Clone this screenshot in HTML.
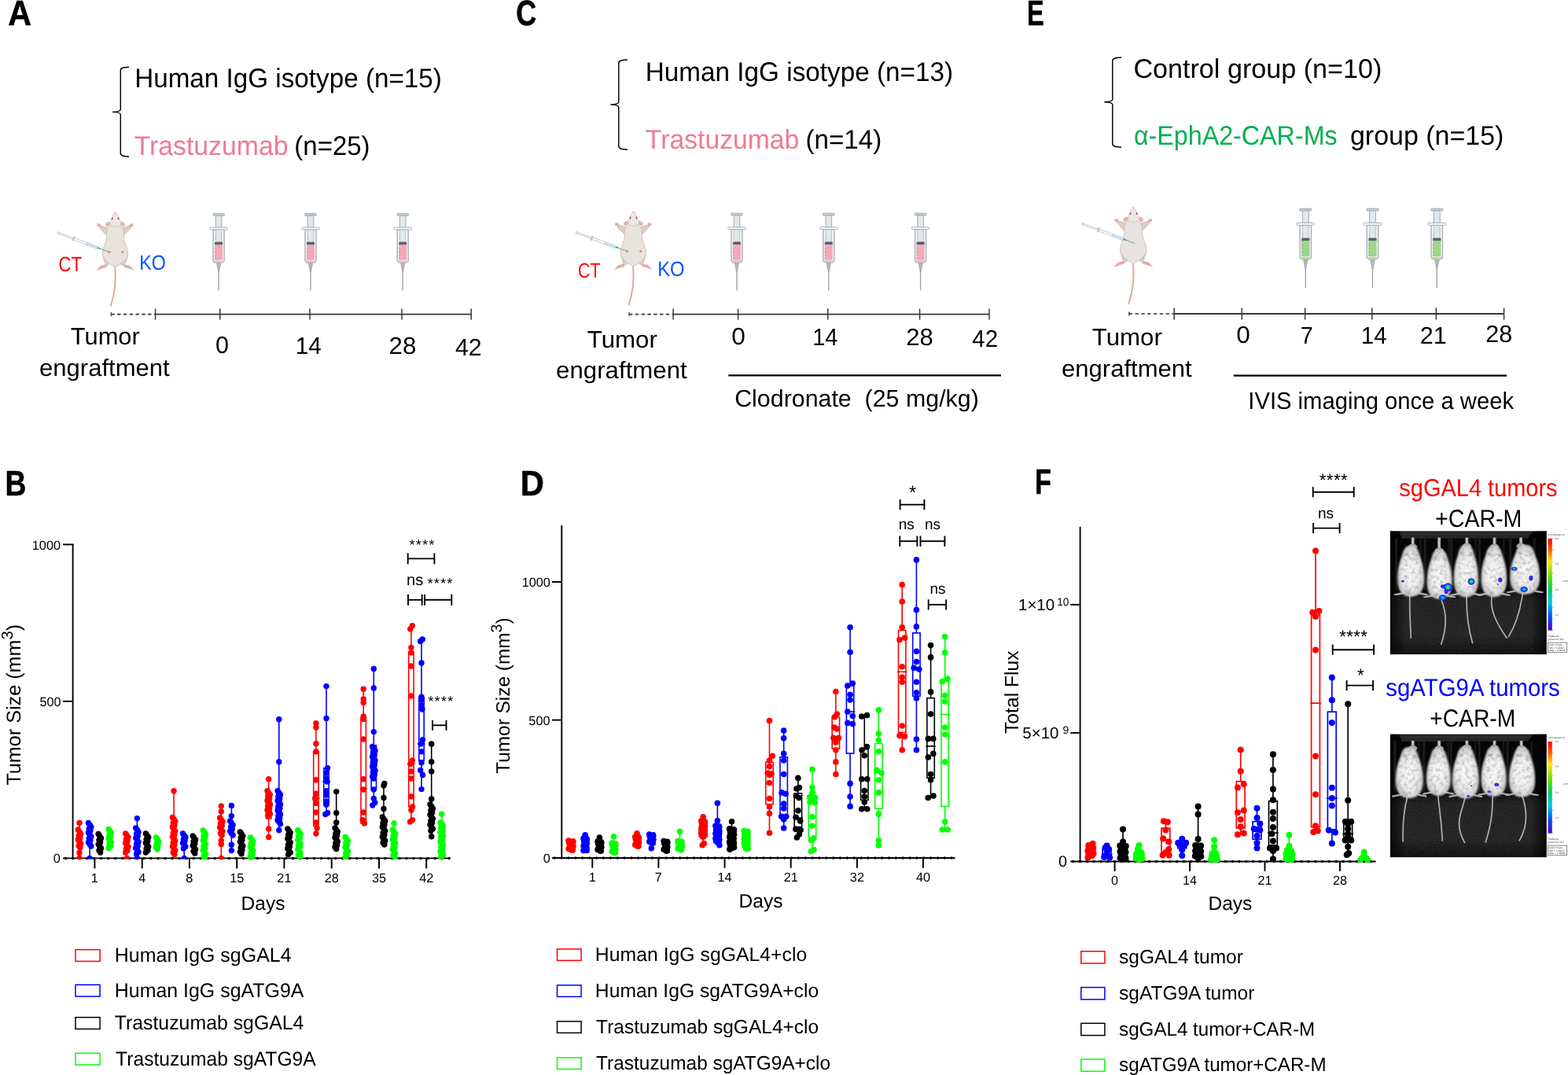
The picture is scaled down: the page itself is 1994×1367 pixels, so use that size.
<!DOCTYPE html>
<html lang="en"><head><meta charset="utf-8"><title>Figure</title>
<style>
html,body{margin:0;padding:0;background:#fff;}
body{width:1994px;height:1367px;overflow:hidden;font-family:'Liberation Sans', Arial, Helvetica, sans-serif;}
svg{display:block;}
svg text{font-family:'Liberation Sans', Arial, Helvetica, sans-serif;text-rendering:geometricPrecision;}
</style></head><body>
<svg width="1994" height="1367" viewBox="0 0 1994 1367">
<rect width="1994" height="1367" fill="#fff"/>
<text x="10.16" y="31.9" font-size="45" fill="#000" font-weight="bold" textLength="29.73" lengthAdjust="spacingAndGlyphs" stroke="#000" stroke-width="0.6" stroke-linejoin="round">A</text>
<text x="656.37" y="32.0" font-size="45" fill="#000" font-weight="bold" textLength="26.01" lengthAdjust="spacingAndGlyphs" stroke="#000" stroke-width="0.6" stroke-linejoin="round">C</text>
<text x="1305.97" y="32.0" font-size="45" fill="#000" font-weight="bold" textLength="21.69" lengthAdjust="spacingAndGlyphs" stroke="#000" stroke-width="0.6" stroke-linejoin="round">E</text>
<text x="6.58" y="630.0" font-size="45" fill="#000" font-weight="bold" textLength="26.81" lengthAdjust="spacingAndGlyphs" stroke="#000" stroke-width="0.6" stroke-linejoin="round">B</text>
<text x="661.69" y="630.2" font-size="45" fill="#000" font-weight="bold" textLength="30.16" lengthAdjust="spacingAndGlyphs" stroke="#000" stroke-width="0.6" stroke-linejoin="round">D</text>
<text x="1315.97" y="628.0" font-size="45" fill="#000" font-weight="bold" textLength="20.85" lengthAdjust="spacingAndGlyphs" stroke="#000" stroke-width="0.6" stroke-linejoin="round">F</text>
<path d="M164.0,85.2 C158.3,85.6 153.3,85.8 153.3,89.7 L153.3,139.2 C153.3,141.4 150.3,142.1 143.0,142.4 C150.3,142.7 153.3,143.4 153.3,145.6 L153.3,194.7 C153.3,198.6 158.3,198.8 164.0,199.2" fill="none" stroke="#000" stroke-width="1.45"/>
<path d="M798.0,76.0 C791.8,76.4 786.8,76.6 786.8,80.5 L786.8,129.8 C786.8,132.0 783.8,132.7 776.5,133.0 C783.8,133.3 786.8,134.0 786.8,136.2 L786.8,185.8 C786.8,189.7 791.8,189.9 798.0,190.3" fill="none" stroke="#000" stroke-width="1.45"/>
<path d="M1426.0,73.0 C1419.8,73.4 1414.8,73.6 1414.8,77.5 L1414.8,126.6 C1414.8,128.8 1411.8,129.5 1404.5,129.8 C1411.8,130.1 1414.8,130.8 1414.8,133.0 L1414.8,182.8 C1414.8,186.7 1419.8,186.9 1426.0,187.3" fill="none" stroke="#000" stroke-width="1.45"/>
<text x="171.20" y="110.9" font-size="34.3" fill="#000" font-weight="normal" textLength="390.72" lengthAdjust="spacingAndGlyphs" >Human IgG isotype (n=15)</text>
<text x="170.67" y="196.7" font-size="34.3" fill="#F07A90" font-weight="normal" textLength="195.80" lengthAdjust="spacingAndGlyphs" >Trastuzumab</text>
<text x="374.35" y="196.7" font-size="34.3" fill="#000" font-weight="normal" textLength="96.25" lengthAdjust="spacingAndGlyphs" >(n=25)</text>
<text x="820.80" y="103.2" font-size="34.3" fill="#000" font-weight="normal" textLength="391.32" lengthAdjust="spacingAndGlyphs" >Human IgG isotype (n=13)</text>
<text x="820.87" y="188.6" font-size="34.3" fill="#F07A90" font-weight="normal" textLength="195.49" lengthAdjust="spacingAndGlyphs" >Trastuzumab</text>
<text x="1024.44" y="188.6" font-size="34.3" fill="#000" font-weight="normal" textLength="96.87" lengthAdjust="spacingAndGlyphs" >(n=14)</text>
<text x="1441.40" y="98.5" font-size="34.3" fill="#000" font-weight="normal" textLength="315.97" lengthAdjust="spacingAndGlyphs" >Control group (n=10)</text>
<text x="1441.99" y="183.8" font-size="34.3" fill="#00B050" font-weight="normal" textLength="258.61" lengthAdjust="spacingAndGlyphs" >α-EphA2-CAR-Ms</text>
<text x="1716.94" y="183.8" font-size="34.3" fill="#000" font-weight="normal" textLength="195.42" lengthAdjust="spacingAndGlyphs" >group (n=15)</text>
<g><rect x="270.80" y="271.40" width="14.60" height="2.80" rx="0.8" fill="#C9D0D4" stroke="#9AA4AA" stroke-width="0.9"/><rect x="274.30" y="274.20" width="7.60" height="34.00" rx="0.8" fill="#E3E8EB" stroke="#9AA4AA" stroke-width="0.9"/><rect x="271.10" y="291.80" width="14.00" height="41.00" rx="1.5" fill="#F2F4F5" stroke="#AEB6BB" stroke-width="1.5"/><rect x="274.50" y="291.80" width="7.20" height="16.00" rx="0" fill="#E3E8EB" stroke="#A9B2B7" stroke-width="0.7"/><rect x="266.80" y="289.10" width="22.60" height="2.80" rx="1.4" fill="#FFFFFF" stroke="#9AA4AA" stroke-width="0.9"/><rect x="273.10" y="307.80" width="10.00" height="3.70" rx="0.3" fill="#5F6468" stroke="none" stroke-width="0"/><rect x="273.10" y="311.50" width="10.00" height="19.20" rx="0.3" fill="#F4A8B8" stroke="none" stroke-width="0"/><rect x="272.10" y="332.00" width="12.00" height="2.60" rx="1.0" fill="#F0B9C4" stroke="#B9C1C6" stroke-width="0.5"/><path d="M275.40,334.60 L280.80,334.60 L278.70,345.40 L277.50,345.40 Z" fill="#B5B5B5" stroke="#8E8E8E" stroke-width="0.5"/><line x1="278.10" y1="344.40" x2="278.10" y2="369.40" stroke="#9C9C9C" stroke-width="1.3"/><line x1="272.90" y1="302.90" x2="274.70" y2="302.90" stroke="#6b6b6b" stroke-width="0.5" opacity="0.7"/><line x1="272.90" y1="316.40" x2="274.70" y2="316.40" stroke="#6b6b6b" stroke-width="0.5" opacity="0.7"/><line x1="272.90" y1="320.40" x2="274.70" y2="320.40" stroke="#6b6b6b" stroke-width="0.5" opacity="0.7"/><line x1="272.90" y1="324.90" x2="274.70" y2="324.90" stroke="#6b6b6b" stroke-width="0.5" opacity="0.7"/><line x1="272.90" y1="328.90" x2="274.70" y2="328.90" stroke="#6b6b6b" stroke-width="0.5" opacity="0.7"/></g>
<g><rect x="387.70" y="271.40" width="14.60" height="2.80" rx="0.8" fill="#C9D0D4" stroke="#9AA4AA" stroke-width="0.9"/><rect x="391.20" y="274.20" width="7.60" height="34.00" rx="0.8" fill="#E3E8EB" stroke="#9AA4AA" stroke-width="0.9"/><rect x="388.00" y="291.80" width="14.00" height="41.00" rx="1.5" fill="#F2F4F5" stroke="#AEB6BB" stroke-width="1.5"/><rect x="391.40" y="291.80" width="7.20" height="16.00" rx="0" fill="#E3E8EB" stroke="#A9B2B7" stroke-width="0.7"/><rect x="383.70" y="289.10" width="22.60" height="2.80" rx="1.4" fill="#FFFFFF" stroke="#9AA4AA" stroke-width="0.9"/><rect x="390.00" y="307.80" width="10.00" height="3.70" rx="0.3" fill="#5F6468" stroke="none" stroke-width="0"/><rect x="390.00" y="311.50" width="10.00" height="19.20" rx="0.3" fill="#F4A8B8" stroke="none" stroke-width="0"/><rect x="389.00" y="332.00" width="12.00" height="2.60" rx="1.0" fill="#F0B9C4" stroke="#B9C1C6" stroke-width="0.5"/><path d="M392.30,334.60 L397.70,334.60 L395.60,345.40 L394.40,345.40 Z" fill="#B5B5B5" stroke="#8E8E8E" stroke-width="0.5"/><line x1="395.00" y1="344.40" x2="395.00" y2="369.40" stroke="#9C9C9C" stroke-width="1.3"/><line x1="389.80" y1="302.90" x2="391.60" y2="302.90" stroke="#6b6b6b" stroke-width="0.5" opacity="0.7"/><line x1="389.80" y1="316.40" x2="391.60" y2="316.40" stroke="#6b6b6b" stroke-width="0.5" opacity="0.7"/><line x1="389.80" y1="320.40" x2="391.60" y2="320.40" stroke="#6b6b6b" stroke-width="0.5" opacity="0.7"/><line x1="389.80" y1="324.90" x2="391.60" y2="324.90" stroke="#6b6b6b" stroke-width="0.5" opacity="0.7"/><line x1="389.80" y1="328.90" x2="391.60" y2="328.90" stroke="#6b6b6b" stroke-width="0.5" opacity="0.7"/></g>
<g><rect x="504.90" y="271.40" width="14.60" height="2.80" rx="0.8" fill="#C9D0D4" stroke="#9AA4AA" stroke-width="0.9"/><rect x="508.40" y="274.20" width="7.60" height="34.00" rx="0.8" fill="#E3E8EB" stroke="#9AA4AA" stroke-width="0.9"/><rect x="505.20" y="291.80" width="14.00" height="41.00" rx="1.5" fill="#F2F4F5" stroke="#AEB6BB" stroke-width="1.5"/><rect x="508.60" y="291.80" width="7.20" height="16.00" rx="0" fill="#E3E8EB" stroke="#A9B2B7" stroke-width="0.7"/><rect x="500.90" y="289.10" width="22.60" height="2.80" rx="1.4" fill="#FFFFFF" stroke="#9AA4AA" stroke-width="0.9"/><rect x="507.20" y="307.80" width="10.00" height="3.70" rx="0.3" fill="#5F6468" stroke="none" stroke-width="0"/><rect x="507.20" y="311.50" width="10.00" height="19.20" rx="0.3" fill="#F4A8B8" stroke="none" stroke-width="0"/><rect x="506.20" y="332.00" width="12.00" height="2.60" rx="1.0" fill="#F0B9C4" stroke="#B9C1C6" stroke-width="0.5"/><path d="M509.50,334.60 L514.90,334.60 L512.80,345.40 L511.60,345.40 Z" fill="#B5B5B5" stroke="#8E8E8E" stroke-width="0.5"/><line x1="512.20" y1="344.40" x2="512.20" y2="369.40" stroke="#9C9C9C" stroke-width="1.3"/><line x1="507.00" y1="302.90" x2="508.80" y2="302.90" stroke="#6b6b6b" stroke-width="0.5" opacity="0.7"/><line x1="507.00" y1="316.40" x2="508.80" y2="316.40" stroke="#6b6b6b" stroke-width="0.5" opacity="0.7"/><line x1="507.00" y1="320.40" x2="508.80" y2="320.40" stroke="#6b6b6b" stroke-width="0.5" opacity="0.7"/><line x1="507.00" y1="324.90" x2="508.80" y2="324.90" stroke="#6b6b6b" stroke-width="0.5" opacity="0.7"/><line x1="507.00" y1="328.90" x2="508.80" y2="328.90" stroke="#6b6b6b" stroke-width="0.5" opacity="0.7"/></g>
<g><rect x="929.70" y="271.20" width="14.60" height="2.80" rx="0.8" fill="#C9D0D4" stroke="#9AA4AA" stroke-width="0.9"/><rect x="933.20" y="274.00" width="7.60" height="34.00" rx="0.8" fill="#E3E8EB" stroke="#9AA4AA" stroke-width="0.9"/><rect x="930.00" y="291.60" width="14.00" height="41.00" rx="1.5" fill="#F2F4F5" stroke="#AEB6BB" stroke-width="1.5"/><rect x="933.40" y="291.60" width="7.20" height="16.00" rx="0" fill="#E3E8EB" stroke="#A9B2B7" stroke-width="0.7"/><rect x="925.70" y="288.90" width="22.60" height="2.80" rx="1.4" fill="#FFFFFF" stroke="#9AA4AA" stroke-width="0.9"/><rect x="932.00" y="307.60" width="10.00" height="3.70" rx="0.3" fill="#5F6468" stroke="none" stroke-width="0"/><rect x="932.00" y="311.30" width="10.00" height="19.20" rx="0.3" fill="#F4A8B8" stroke="none" stroke-width="0"/><rect x="931.00" y="331.80" width="12.00" height="2.60" rx="1.0" fill="#F0B9C4" stroke="#B9C1C6" stroke-width="0.5"/><path d="M934.30,334.40 L939.70,334.40 L937.60,345.20 L936.40,345.20 Z" fill="#B5B5B5" stroke="#8E8E8E" stroke-width="0.5"/><line x1="937.00" y1="344.20" x2="937.00" y2="369.20" stroke="#9C9C9C" stroke-width="1.3"/><line x1="931.80" y1="302.70" x2="933.60" y2="302.70" stroke="#6b6b6b" stroke-width="0.5" opacity="0.7"/><line x1="931.80" y1="316.20" x2="933.60" y2="316.20" stroke="#6b6b6b" stroke-width="0.5" opacity="0.7"/><line x1="931.80" y1="320.20" x2="933.60" y2="320.20" stroke="#6b6b6b" stroke-width="0.5" opacity="0.7"/><line x1="931.80" y1="324.70" x2="933.60" y2="324.70" stroke="#6b6b6b" stroke-width="0.5" opacity="0.7"/><line x1="931.80" y1="328.70" x2="933.60" y2="328.70" stroke="#6b6b6b" stroke-width="0.5" opacity="0.7"/></g>
<g><rect x="1046.50" y="271.20" width="14.60" height="2.80" rx="0.8" fill="#C9D0D4" stroke="#9AA4AA" stroke-width="0.9"/><rect x="1050.00" y="274.00" width="7.60" height="34.00" rx="0.8" fill="#E3E8EB" stroke="#9AA4AA" stroke-width="0.9"/><rect x="1046.80" y="291.60" width="14.00" height="41.00" rx="1.5" fill="#F2F4F5" stroke="#AEB6BB" stroke-width="1.5"/><rect x="1050.20" y="291.60" width="7.20" height="16.00" rx="0" fill="#E3E8EB" stroke="#A9B2B7" stroke-width="0.7"/><rect x="1042.50" y="288.90" width="22.60" height="2.80" rx="1.4" fill="#FFFFFF" stroke="#9AA4AA" stroke-width="0.9"/><rect x="1048.80" y="307.60" width="10.00" height="3.70" rx="0.3" fill="#5F6468" stroke="none" stroke-width="0"/><rect x="1048.80" y="311.30" width="10.00" height="19.20" rx="0.3" fill="#F4A8B8" stroke="none" stroke-width="0"/><rect x="1047.80" y="331.80" width="12.00" height="2.60" rx="1.0" fill="#F0B9C4" stroke="#B9C1C6" stroke-width="0.5"/><path d="M1051.10,334.40 L1056.50,334.40 L1054.40,345.20 L1053.20,345.20 Z" fill="#B5B5B5" stroke="#8E8E8E" stroke-width="0.5"/><line x1="1053.80" y1="344.20" x2="1053.80" y2="369.20" stroke="#9C9C9C" stroke-width="1.3"/><line x1="1048.60" y1="302.70" x2="1050.40" y2="302.70" stroke="#6b6b6b" stroke-width="0.5" opacity="0.7"/><line x1="1048.60" y1="316.20" x2="1050.40" y2="316.20" stroke="#6b6b6b" stroke-width="0.5" opacity="0.7"/><line x1="1048.60" y1="320.20" x2="1050.40" y2="320.20" stroke="#6b6b6b" stroke-width="0.5" opacity="0.7"/><line x1="1048.60" y1="324.70" x2="1050.40" y2="324.70" stroke="#6b6b6b" stroke-width="0.5" opacity="0.7"/><line x1="1048.60" y1="328.70" x2="1050.40" y2="328.70" stroke="#6b6b6b" stroke-width="0.5" opacity="0.7"/></g>
<g><rect x="1163.30" y="271.20" width="14.60" height="2.80" rx="0.8" fill="#C9D0D4" stroke="#9AA4AA" stroke-width="0.9"/><rect x="1166.80" y="274.00" width="7.60" height="34.00" rx="0.8" fill="#E3E8EB" stroke="#9AA4AA" stroke-width="0.9"/><rect x="1163.60" y="291.60" width="14.00" height="41.00" rx="1.5" fill="#F2F4F5" stroke="#AEB6BB" stroke-width="1.5"/><rect x="1167.00" y="291.60" width="7.20" height="16.00" rx="0" fill="#E3E8EB" stroke="#A9B2B7" stroke-width="0.7"/><rect x="1159.30" y="288.90" width="22.60" height="2.80" rx="1.4" fill="#FFFFFF" stroke="#9AA4AA" stroke-width="0.9"/><rect x="1165.60" y="307.60" width="10.00" height="3.70" rx="0.3" fill="#5F6468" stroke="none" stroke-width="0"/><rect x="1165.60" y="311.30" width="10.00" height="19.20" rx="0.3" fill="#F4A8B8" stroke="none" stroke-width="0"/><rect x="1164.60" y="331.80" width="12.00" height="2.60" rx="1.0" fill="#F0B9C4" stroke="#B9C1C6" stroke-width="0.5"/><path d="M1167.90,334.40 L1173.30,334.40 L1171.20,345.20 L1170.00,345.20 Z" fill="#B5B5B5" stroke="#8E8E8E" stroke-width="0.5"/><line x1="1170.60" y1="344.20" x2="1170.60" y2="369.20" stroke="#9C9C9C" stroke-width="1.3"/><line x1="1165.40" y1="302.70" x2="1167.20" y2="302.70" stroke="#6b6b6b" stroke-width="0.5" opacity="0.7"/><line x1="1165.40" y1="316.20" x2="1167.20" y2="316.20" stroke="#6b6b6b" stroke-width="0.5" opacity="0.7"/><line x1="1165.40" y1="320.20" x2="1167.20" y2="320.20" stroke="#6b6b6b" stroke-width="0.5" opacity="0.7"/><line x1="1165.40" y1="324.70" x2="1167.20" y2="324.70" stroke="#6b6b6b" stroke-width="0.5" opacity="0.7"/><line x1="1165.40" y1="328.70" x2="1167.20" y2="328.70" stroke="#6b6b6b" stroke-width="0.5" opacity="0.7"/></g>
<g><rect x="1652.78" y="265.20" width="15.04" height="2.88" rx="0.8" fill="#C9D0D4" stroke="#9AA4AA" stroke-width="0.9"/><rect x="1656.39" y="268.08" width="7.83" height="35.02" rx="0.8" fill="#E3E8EB" stroke="#9AA4AA" stroke-width="0.9"/><rect x="1653.09" y="286.21" width="14.42" height="42.23" rx="1.5" fill="#F2F4F5" stroke="#AEB6BB" stroke-width="1.5"/><rect x="1656.59" y="286.21" width="7.42" height="16.48" rx="0" fill="#E3E8EB" stroke="#A9B2B7" stroke-width="0.7"/><rect x="1648.66" y="283.43" width="23.28" height="2.88" rx="1.4" fill="#FFFFFF" stroke="#9AA4AA" stroke-width="0.9"/><rect x="1655.15" y="302.69" width="10.30" height="3.81" rx="0.3" fill="#5F6468" stroke="none" stroke-width="0"/><rect x="1655.15" y="306.50" width="10.30" height="19.78" rx="0.3" fill="#9FD58C" stroke="none" stroke-width="0"/><rect x="1654.12" y="327.62" width="12.36" height="2.68" rx="1.0" fill="#B7DDA8" stroke="#B9C1C6" stroke-width="0.5"/><path d="M1657.52,330.30 L1663.08,330.30 L1660.92,341.42 L1659.68,341.42 Z" fill="#B5B5B5" stroke="#8E8E8E" stroke-width="0.5"/><line x1="1660.30" y1="340.39" x2="1660.30" y2="366.14" stroke="#9C9C9C" stroke-width="1.3"/><line x1="1654.94" y1="297.64" x2="1656.80" y2="297.64" stroke="#6b6b6b" stroke-width="0.5" opacity="0.7"/><line x1="1654.94" y1="311.55" x2="1656.80" y2="311.55" stroke="#6b6b6b" stroke-width="0.5" opacity="0.7"/><line x1="1654.94" y1="315.67" x2="1656.80" y2="315.67" stroke="#6b6b6b" stroke-width="0.5" opacity="0.7"/><line x1="1654.94" y1="320.31" x2="1656.80" y2="320.31" stroke="#6b6b6b" stroke-width="0.5" opacity="0.7"/><line x1="1654.94" y1="324.43" x2="1656.80" y2="324.43" stroke="#6b6b6b" stroke-width="0.5" opacity="0.7"/></g>
<g><rect x="1737.98" y="265.20" width="15.04" height="2.88" rx="0.8" fill="#C9D0D4" stroke="#9AA4AA" stroke-width="0.9"/><rect x="1741.59" y="268.08" width="7.83" height="35.02" rx="0.8" fill="#E3E8EB" stroke="#9AA4AA" stroke-width="0.9"/><rect x="1738.29" y="286.21" width="14.42" height="42.23" rx="1.5" fill="#F2F4F5" stroke="#AEB6BB" stroke-width="1.5"/><rect x="1741.79" y="286.21" width="7.42" height="16.48" rx="0" fill="#E3E8EB" stroke="#A9B2B7" stroke-width="0.7"/><rect x="1733.86" y="283.43" width="23.28" height="2.88" rx="1.4" fill="#FFFFFF" stroke="#9AA4AA" stroke-width="0.9"/><rect x="1740.35" y="302.69" width="10.30" height="3.81" rx="0.3" fill="#5F6468" stroke="none" stroke-width="0"/><rect x="1740.35" y="306.50" width="10.30" height="19.78" rx="0.3" fill="#9FD58C" stroke="none" stroke-width="0"/><rect x="1739.32" y="327.62" width="12.36" height="2.68" rx="1.0" fill="#B7DDA8" stroke="#B9C1C6" stroke-width="0.5"/><path d="M1742.72,330.30 L1748.28,330.30 L1746.12,341.42 L1744.88,341.42 Z" fill="#B5B5B5" stroke="#8E8E8E" stroke-width="0.5"/><line x1="1745.50" y1="340.39" x2="1745.50" y2="366.14" stroke="#9C9C9C" stroke-width="1.3"/><line x1="1740.14" y1="297.64" x2="1742.00" y2="297.64" stroke="#6b6b6b" stroke-width="0.5" opacity="0.7"/><line x1="1740.14" y1="311.55" x2="1742.00" y2="311.55" stroke="#6b6b6b" stroke-width="0.5" opacity="0.7"/><line x1="1740.14" y1="315.67" x2="1742.00" y2="315.67" stroke="#6b6b6b" stroke-width="0.5" opacity="0.7"/><line x1="1740.14" y1="320.31" x2="1742.00" y2="320.31" stroke="#6b6b6b" stroke-width="0.5" opacity="0.7"/><line x1="1740.14" y1="324.43" x2="1742.00" y2="324.43" stroke="#6b6b6b" stroke-width="0.5" opacity="0.7"/></g>
<g><rect x="1819.78" y="265.20" width="15.04" height="2.88" rx="0.8" fill="#C9D0D4" stroke="#9AA4AA" stroke-width="0.9"/><rect x="1823.39" y="268.08" width="7.83" height="35.02" rx="0.8" fill="#E3E8EB" stroke="#9AA4AA" stroke-width="0.9"/><rect x="1820.09" y="286.21" width="14.42" height="42.23" rx="1.5" fill="#F2F4F5" stroke="#AEB6BB" stroke-width="1.5"/><rect x="1823.59" y="286.21" width="7.42" height="16.48" rx="0" fill="#E3E8EB" stroke="#A9B2B7" stroke-width="0.7"/><rect x="1815.66" y="283.43" width="23.28" height="2.88" rx="1.4" fill="#FFFFFF" stroke="#9AA4AA" stroke-width="0.9"/><rect x="1822.15" y="302.69" width="10.30" height="3.81" rx="0.3" fill="#5F6468" stroke="none" stroke-width="0"/><rect x="1822.15" y="306.50" width="10.30" height="19.78" rx="0.3" fill="#9FD58C" stroke="none" stroke-width="0"/><rect x="1821.12" y="327.62" width="12.36" height="2.68" rx="1.0" fill="#B7DDA8" stroke="#B9C1C6" stroke-width="0.5"/><path d="M1824.52,330.30 L1830.08,330.30 L1827.92,341.42 L1826.68,341.42 Z" fill="#B5B5B5" stroke="#8E8E8E" stroke-width="0.5"/><line x1="1827.30" y1="340.39" x2="1827.30" y2="366.14" stroke="#9C9C9C" stroke-width="1.3"/><line x1="1821.94" y1="297.64" x2="1823.80" y2="297.64" stroke="#6b6b6b" stroke-width="0.5" opacity="0.7"/><line x1="1821.94" y1="311.55" x2="1823.80" y2="311.55" stroke="#6b6b6b" stroke-width="0.5" opacity="0.7"/><line x1="1821.94" y1="315.67" x2="1823.80" y2="315.67" stroke="#6b6b6b" stroke-width="0.5" opacity="0.7"/><line x1="1821.94" y1="320.31" x2="1823.80" y2="320.31" stroke="#6b6b6b" stroke-width="0.5" opacity="0.7"/><line x1="1821.94" y1="324.43" x2="1823.80" y2="324.43" stroke="#6b6b6b" stroke-width="0.5" opacity="0.7"/></g>
<g><path d="M146.2,338.0 C147.5,352.0 146.5,372.0 140.8,388.8" fill="none" stroke="#DBA8A3" stroke-width="1.90" stroke-linecap="round"/><path d="M136.5,335.0 L135.0,339.5 L123.0,343.5 L127.5,338.5 L133.5,337.0 Z" fill="#E6A9A4" stroke="#D69A96" stroke-width="0.5"/><path d="M156.5,335.0 L158.0,339.5 L170.0,343.0 L165.5,338.5 L159.5,337.0 Z" fill="#E6A9A4" stroke="#D69A96" stroke-width="0.5"/><path d="M131.5,318.0 C129.0,326.0 133.0,332.0 134.5,338.0 L138.5,337.0 L140.0,322.0 Z" fill="#D8CEC6" stroke="#C7B9AD" stroke-width="0.6"/><path d="M161.5,318.0 C164.0,326.0 160.0,332.0 158.5,338.0 L154.5,337.0 L153.0,322.0 Z" fill="#D8CEC6" stroke="#C7B9AD" stroke-width="0.6"/><path d="M139.0,290.0 L128.0,287.0 L126.0,289.5 L136.0,300.0 Z" fill="#D8CEC6" stroke="#C7B9AD" stroke-width="0.6"/><path d="M154.0,290.0 L165.0,287.0 L167.0,289.5 L157.0,300.0 Z" fill="#D8CEC6" stroke="#C7B9AD" stroke-width="0.6"/><path d="M128.5,289.0 L123.3,287.5 L123.8,283.5 L125.5,285.5 L126.3,283.2 L128.0,286.0 Z" fill="#E6A9A4"/><path d="M164.5,289.0 L169.7,287.5 L169.2,283.5 L167.5,285.5 L166.7,283.2 L165.0,286.0 Z" fill="#E6A9A4"/><path d="M146.5,286.0 C155.0,286.0 158.5,291.0 157.5,300.0 C157.0,308.0 163.5,316.0 162.5,324.0 C161.5,331.0 153.0,336.0 146.5,340.0 C140.0,336.0 131.5,331.0 130.5,324.0 C129.5,316.0 136.0,308.0 135.5,300.0 C134.5,291.0 138.0,286.0 146.5,286.0 Z" fill="#E7E3DF" stroke="#C7B9AD" stroke-width="0.8"/><ellipse cx="137.3" cy="285.0" rx="3.2" ry="2.4" transform="rotate(-35 137.3 285.0)" fill="#E9B5B0" stroke="#D9A29C" stroke-width="0.5"/><ellipse cx="155.7" cy="285.0" rx="3.2" ry="2.4" transform="rotate(35 155.7 285.0)" fill="#E9B5B0" stroke="#D9A29C" stroke-width="0.5"/><path d="M146.7,270.3 C149.0,270.5 150.0,275.0 152.0,279.0 C154.5,283.0 154.5,287.5 146.7,288.3 C139.0,287.5 139.0,283.0 141.5,279.0 C143.5,275.0 144.5,270.5 146.7,270.3 Z" fill="#ECE8E5" stroke="#C7B9AD" stroke-width="0.6"/><ellipse cx="142.8" cy="278.0" rx="0.8" ry="1.5" transform="rotate(20 142.8 278.0)" fill="#B3373B"/><ellipse cx="150.6" cy="278.0" rx="0.8" ry="1.5" transform="rotate(-20 150.6 278.0)" fill="#B3373B"/><circle cx="146.7" cy="270.8" r="0.9" fill="#E7A7A2"/><circle cx="138.9" cy="320.6" r="1.6" fill="#E98482"/><circle cx="155.8" cy="320.6" r="1.6" fill="#E98482"/></g>
<g transform="translate(73.5 296.0) rotate(20.59)"><rect x="0" y="-1.9" width="1.6" height="3.8" rx="0.6" fill="#fff" stroke="#9aa2a7" stroke-width="0.5"/><rect x="1.6" y="-0.9" width="20.7" height="1.8" fill="#F4F6F7" stroke="#a3abb0" stroke-width="0.5"/><rect x="20.7" y="-3" width="1.3" height="6" rx="0.5" fill="#dfe3e6" stroke="#9aa2a7" stroke-width="0.5"/><rect x="22.0" y="-1.5" width="18.7" height="3" fill="#F7F8F9" stroke="#a3abb0" stroke-width="0.5"/><rect x="39.4" y="-1.5" width="14.5" height="3" fill="#CFE6F7" stroke="#9fb3c2" stroke-width="0.5"/><path d="M53.9,-1.1 L59.4,-0.3 L59.4,0.3 L53.9,1.1 Z" fill="#3F9C8A"/><line x1="59.4" y1="0" x2="69.1" y2="0" stroke="#777" stroke-width="0.7"/></g>
<g><path d="M805.0,337.0 C806.3,351.0 805.3,371.0 799.6,387.8" fill="none" stroke="#DBA8A3" stroke-width="1.90" stroke-linecap="round"/><path d="M795.3,334.0 L793.8,338.5 L781.8,342.5 L786.3,337.5 L792.3,336.0 Z" fill="#E6A9A4" stroke="#D69A96" stroke-width="0.5"/><path d="M815.3,334.0 L816.8,338.5 L828.8,342.0 L824.3,337.5 L818.3,336.0 Z" fill="#E6A9A4" stroke="#D69A96" stroke-width="0.5"/><path d="M790.3,317.0 C787.8,325.0 791.8,331.0 793.3,337.0 L797.3,336.0 L798.8,321.0 Z" fill="#D8CEC6" stroke="#C7B9AD" stroke-width="0.6"/><path d="M820.3,317.0 C822.8,325.0 818.8,331.0 817.3,337.0 L813.3,336.0 L811.8,321.0 Z" fill="#D8CEC6" stroke="#C7B9AD" stroke-width="0.6"/><path d="M797.8,289.0 L786.8,286.0 L784.8,288.5 L794.8,299.0 Z" fill="#D8CEC6" stroke="#C7B9AD" stroke-width="0.6"/><path d="M812.8,289.0 L823.8,286.0 L825.8,288.5 L815.8,299.0 Z" fill="#D8CEC6" stroke="#C7B9AD" stroke-width="0.6"/><path d="M787.3,288.0 L782.1,286.5 L782.6,282.5 L784.3,284.5 L785.1,282.2 L786.8,285.0 Z" fill="#E6A9A4"/><path d="M823.3,288.0 L828.5,286.5 L828.0,282.5 L826.3,284.5 L825.5,282.2 L823.8,285.0 Z" fill="#E6A9A4"/><path d="M805.3,285.0 C813.8,285.0 817.3,290.0 816.3,299.0 C815.8,307.0 822.3,315.0 821.3,323.0 C820.3,330.0 811.8,335.0 805.3,339.0 C798.8,335.0 790.3,330.0 789.3,323.0 C788.3,315.0 794.8,307.0 794.3,299.0 C793.3,290.0 796.8,285.0 805.3,285.0 Z" fill="#E7E3DF" stroke="#C7B9AD" stroke-width="0.8"/><ellipse cx="796.1" cy="284.0" rx="3.2" ry="2.4" transform="rotate(-35 796.1 284.0)" fill="#E9B5B0" stroke="#D9A29C" stroke-width="0.5"/><ellipse cx="814.5" cy="284.0" rx="3.2" ry="2.4" transform="rotate(35 814.5 284.0)" fill="#E9B5B0" stroke="#D9A29C" stroke-width="0.5"/><path d="M805.5,269.3 C807.8,269.5 808.8,274.0 810.8,278.0 C813.3,282.0 813.3,286.5 805.5,287.3 C797.8,286.5 797.8,282.0 800.3,278.0 C802.3,274.0 803.3,269.5 805.5,269.3 Z" fill="#ECE8E5" stroke="#C7B9AD" stroke-width="0.6"/><ellipse cx="801.6" cy="277.0" rx="0.8" ry="1.5" transform="rotate(20 801.6 277.0)" fill="#B3373B"/><ellipse cx="809.4" cy="277.0" rx="0.8" ry="1.5" transform="rotate(-20 809.4 277.0)" fill="#B3373B"/><circle cx="805.5" cy="269.8" r="0.9" fill="#E7A7A2"/><circle cx="797.7" cy="319.6" r="1.6" fill="#E98482"/><circle cx="814.6" cy="319.6" r="1.6" fill="#E98482"/></g>
<g transform="translate(732.7 295.6) rotate(20.25)"><rect x="0" y="-1.9" width="1.6" height="3.8" rx="0.6" fill="#fff" stroke="#9aa2a7" stroke-width="0.5"/><rect x="1.6" y="-0.9" width="20.6" height="1.8" fill="#F4F6F7" stroke="#a3abb0" stroke-width="0.5"/><rect x="20.6" y="-3" width="1.3" height="6" rx="0.5" fill="#dfe3e6" stroke="#9aa2a7" stroke-width="0.5"/><rect x="21.9" y="-1.5" width="18.6" height="3" fill="#F7F8F9" stroke="#a3abb0" stroke-width="0.5"/><rect x="39.2" y="-1.5" width="14.4" height="3" fill="#CFE6F7" stroke="#9fb3c2" stroke-width="0.5"/><path d="M53.6,-1.1 L59.1,-0.3 L59.1,0.3 L53.6,1.1 Z" fill="#3F9C8A"/><line x1="59.1" y1="0" x2="68.8" y2="0" stroke="#777" stroke-width="0.7"/></g>
<g><path d="M1441.0,333.5 C1442.3,348.0 1441.3,368.6 1435.4,385.9" fill="none" stroke="#DBA8A3" stroke-width="1.96" stroke-linecap="round"/><path d="M1431.0,330.4 L1429.5,335.1 L1417.1,339.2 L1421.7,334.1 L1427.9,332.5 Z" fill="#E6A9A4" stroke="#D69A96" stroke-width="0.5"/><path d="M1451.6,330.4 L1453.1,335.1 L1465.5,338.7 L1460.9,334.1 L1454.7,332.5 Z" fill="#E6A9A4" stroke="#D69A96" stroke-width="0.5"/><path d="M1425.8,312.9 C1423.3,321.2 1427.4,327.4 1428.9,333.5 L1433.1,332.5 L1434.6,317.1 Z" fill="#D8CEC6" stroke="#C7B9AD" stroke-width="0.6"/><path d="M1456.8,312.9 C1459.3,321.2 1455.2,327.4 1453.7,333.5 L1449.5,332.5 L1448.0,317.1 Z" fill="#D8CEC6" stroke="#C7B9AD" stroke-width="0.6"/><path d="M1433.6,284.1 L1422.2,281.0 L1420.2,283.6 L1430.5,294.4 Z" fill="#D8CEC6" stroke="#C7B9AD" stroke-width="0.6"/><path d="M1449.0,284.1 L1460.4,281.0 L1462.4,283.6 L1452.1,294.4 Z" fill="#D8CEC6" stroke="#C7B9AD" stroke-width="0.6"/><path d="M1422.8,283.1 L1417.4,281.5 L1417.9,277.4 L1419.7,279.5 L1420.5,277.1 L1422.2,280.0 Z" fill="#E6A9A4"/><path d="M1459.8,283.1 L1465.2,281.5 L1464.7,277.4 L1462.9,279.5 L1462.1,277.1 L1460.4,280.0 Z" fill="#E6A9A4"/><path d="M1441.3,280.0 C1450.1,280.0 1453.7,285.1 1452.6,294.4 C1452.1,302.6 1458.8,310.9 1457.8,319.1 C1456.8,326.3 1448.0,331.5 1441.3,335.6 C1434.6,331.5 1425.8,326.3 1424.8,319.1 C1423.8,310.9 1430.5,302.6 1430.0,294.4 C1428.9,285.1 1432.5,280.0 1441.3,280.0 Z" fill="#E7E3DF" stroke="#C7B9AD" stroke-width="0.8"/><ellipse cx="1431.8" cy="278.9" rx="3.3" ry="2.5" transform="rotate(-35 1431.8 278.9)" fill="#E9B5B0" stroke="#D9A29C" stroke-width="0.5"/><ellipse cx="1450.8" cy="278.9" rx="3.3" ry="2.5" transform="rotate(35 1450.8 278.9)" fill="#E9B5B0" stroke="#D9A29C" stroke-width="0.5"/><path d="M1441.5,263.8 C1443.9,264.0 1444.9,268.6 1447.0,272.8 C1449.5,276.9 1449.5,281.5 1441.5,282.3 C1433.6,281.5 1433.6,276.9 1436.1,272.8 C1438.2,268.6 1439.2,264.0 1441.5,263.8 Z" fill="#ECE8E5" stroke="#C7B9AD" stroke-width="0.6"/><ellipse cx="1437.5" cy="271.7" rx="0.8" ry="1.5" transform="rotate(20 1437.5 271.7)" fill="#B3373B"/><ellipse cx="1445.5" cy="271.7" rx="0.8" ry="1.5" transform="rotate(-20 1445.5 271.7)" fill="#B3373B"/><circle cx="1441.5" cy="264.3" r="0.9" fill="#E7A7A2"/></g>
<g transform="translate(1376.0 284.6) rotate(20.35)"><rect x="0" y="-1.9" width="1.6" height="3.8" rx="0.6" fill="#fff" stroke="#9aa2a7" stroke-width="0.5"/><rect x="1.6" y="-0.9" width="21.6" height="1.8" fill="#F4F6F7" stroke="#a3abb0" stroke-width="0.5"/><rect x="21.6" y="-3" width="1.3" height="6" rx="0.5" fill="#dfe3e6" stroke="#9aa2a7" stroke-width="0.5"/><rect x="22.9" y="-1.5" width="19.4" height="3" fill="#F7F8F9" stroke="#a3abb0" stroke-width="0.5"/><rect x="41.0" y="-1.5" width="15.1" height="3" fill="#CFE6F7" stroke="#9fb3c2" stroke-width="0.5"/><path d="M56.1,-1.1 L61.8,-0.3 L61.8,0.3 L56.1,1.1 Z" fill="#3F9C8A"/><line x1="61.8" y1="0" x2="71.9" y2="0" stroke="#777" stroke-width="0.7"/></g>
<text x="74.14" y="344.8" font-size="26.5" fill="#FF0000" font-weight="normal" textLength="30.25" lengthAdjust="spacingAndGlyphs" >CT</text>
<text x="177.18" y="342.6" font-size="26.5" fill="#0055FF" font-weight="normal" textLength="33.63" lengthAdjust="spacingAndGlyphs" >KO</text>
<text x="735.00" y="352.5" font-size="26.5" fill="#FF0000" font-weight="normal" textLength="28.57" lengthAdjust="spacingAndGlyphs" >CT</text>
<text x="836.14" y="351.2" font-size="26.5" fill="#0055FF" font-weight="normal" textLength="34.39" lengthAdjust="spacingAndGlyphs" >KO</text>
<line x1="141.3" y1="399.6" x2="197.6" y2="399.6" stroke="#333" stroke-width="1.7" stroke-dasharray="4.4 3.4"/>
<line x1="141.3" y1="397.0" x2="141.3" y2="402.2" stroke="#3a3a3a" stroke-width="1.2" />
<line x1="197.6" y1="399.6" x2="599.2" y2="399.6" stroke="#383838" stroke-width="1.9" />
<line x1="197.6" y1="392.6" x2="197.6" y2="406.6" stroke="#383838" stroke-width="1.5" />
<line x1="279.8" y1="392.6" x2="279.8" y2="406.6" stroke="#383838" stroke-width="1.5" />
<line x1="394.0" y1="392.6" x2="394.0" y2="406.6" stroke="#383838" stroke-width="1.5" />
<line x1="511.0" y1="392.6" x2="511.0" y2="406.6" stroke="#383838" stroke-width="1.5" />
<line x1="599.2" y1="392.6" x2="599.2" y2="406.6" stroke="#383838" stroke-width="1.5" />
<line x1="800.0" y1="399.6" x2="856.2" y2="399.6" stroke="#333" stroke-width="1.7" stroke-dasharray="4.4 3.4"/>
<line x1="800.0" y1="397.0" x2="800.0" y2="402.2" stroke="#3a3a3a" stroke-width="1.2" />
<line x1="856.2" y1="399.6" x2="1258.0" y2="399.6" stroke="#383838" stroke-width="1.9" />
<line x1="856.2" y1="392.6" x2="856.2" y2="406.6" stroke="#383838" stroke-width="1.5" />
<line x1="938.6" y1="392.6" x2="938.6" y2="406.6" stroke="#383838" stroke-width="1.5" />
<line x1="1052.8" y1="392.6" x2="1052.8" y2="406.6" stroke="#383838" stroke-width="1.5" />
<line x1="1169.6" y1="392.6" x2="1169.6" y2="406.6" stroke="#383838" stroke-width="1.5" />
<line x1="1258.0" y1="392.6" x2="1258.0" y2="406.6" stroke="#383838" stroke-width="1.5" />
<line x1="1435.7" y1="399.0" x2="1493.2" y2="399.0" stroke="#333" stroke-width="1.7" stroke-dasharray="4.4 3.4"/>
<line x1="1435.7" y1="396.4" x2="1435.7" y2="401.6" stroke="#3a3a3a" stroke-width="1.2" />
<line x1="1493.2" y1="399.0" x2="1912.6" y2="399.0" stroke="#383838" stroke-width="1.9" />
<line x1="1493.2" y1="391.5" x2="1493.2" y2="406.5" stroke="#383838" stroke-width="1.5" />
<line x1="1579.2" y1="391.5" x2="1579.2" y2="406.5" stroke="#383838" stroke-width="1.5" />
<line x1="1659.6" y1="391.5" x2="1659.6" y2="406.5" stroke="#383838" stroke-width="1.5" />
<line x1="1744.8" y1="391.5" x2="1744.8" y2="406.5" stroke="#383838" stroke-width="1.5" />
<line x1="1826.3" y1="391.5" x2="1826.3" y2="406.5" stroke="#383838" stroke-width="1.5" />
<line x1="1912.6" y1="391.5" x2="1912.6" y2="406.5" stroke="#383838" stroke-width="1.5" />
<text x="89.72" y="438.1" font-size="30.4" fill="#000" font-weight="normal" textLength="88.13" lengthAdjust="spacingAndGlyphs" >Tumor</text>
<text x="50.03" y="478.1" font-size="30.4" fill="#000" font-weight="normal" textLength="165.66" lengthAdjust="spacingAndGlyphs" >engraftment</text>
<text x="274.04" y="448.6" font-size="30.4" fill="#000" font-weight="normal" textLength="17.02" lengthAdjust="spacingAndGlyphs" >0</text>
<text x="375.64" y="450.2" font-size="30.4" fill="#000" font-weight="normal" textLength="33.10" lengthAdjust="spacingAndGlyphs" >14</text>
<text x="494.54" y="450.2" font-size="30.4" fill="#000" font-weight="normal" textLength="34.73" lengthAdjust="spacingAndGlyphs" >28</text>
<text x="579.03" y="452.0" font-size="30.4" fill="#000" font-weight="normal" textLength="33.70" lengthAdjust="spacingAndGlyphs" >42</text>
<text x="746.71" y="441.9" font-size="30.4" fill="#000" font-weight="normal" textLength="89.24" lengthAdjust="spacingAndGlyphs" >Tumor</text>
<text x="707.12" y="481.0" font-size="30.4" fill="#000" font-weight="normal" textLength="166.67" lengthAdjust="spacingAndGlyphs" >engraftment</text>
<text x="930.31" y="437.6" font-size="30.4" fill="#000" font-weight="normal" textLength="17.69" lengthAdjust="spacingAndGlyphs" >0</text>
<text x="1033.18" y="439.3" font-size="30.4" fill="#000" font-weight="normal" textLength="32.34" lengthAdjust="spacingAndGlyphs" >14</text>
<text x="1152.25" y="439.3" font-size="30.4" fill="#000" font-weight="normal" textLength="34.51" lengthAdjust="spacingAndGlyphs" >28</text>
<text x="1236.34" y="441.3" font-size="30.4" fill="#000" font-weight="normal" textLength="32.86" lengthAdjust="spacingAndGlyphs" >42</text>
<line x1="926.3" y1="477.3" x2="1273.0" y2="477.3" stroke="#000" stroke-width="2.2" />
<text x="934.18" y="517.4" font-size="30.4" fill="#000" font-weight="normal" textLength="310.60" lengthAdjust="spacingAndGlyphs" xml:space="preserve">Clodronate  (25 mg/kg)</text>
<text x="1388.81" y="439.1" font-size="30.4" fill="#000" font-weight="normal" textLength="89.04" lengthAdjust="spacingAndGlyphs" >Tumor</text>
<text x="1350.03" y="478.6" font-size="30.4" fill="#000" font-weight="normal" textLength="165.66" lengthAdjust="spacingAndGlyphs" >engraftment</text>
<text x="1572.21" y="436.0" font-size="30.4" fill="#000" font-weight="normal" textLength="17.57" lengthAdjust="spacingAndGlyphs" >0</text>
<text x="1653.65" y="437.0" font-size="30.4" fill="#000" font-weight="normal" textLength="16.02" lengthAdjust="spacingAndGlyphs" >7</text>
<text x="1730.85" y="437.4" font-size="30.4" fill="#000" font-weight="normal" textLength="32.88" lengthAdjust="spacingAndGlyphs" >14</text>
<text x="1805.66" y="437.4" font-size="30.4" fill="#000" font-weight="normal" textLength="34.08" lengthAdjust="spacingAndGlyphs" >21</text>
<text x="1889.27" y="435.0" font-size="30.4" fill="#000" font-weight="normal" textLength="33.97" lengthAdjust="spacingAndGlyphs" >28</text>
<line x1="1568.7" y1="477.7" x2="1916.0" y2="477.7" stroke="#000" stroke-width="2.2" />
<text x="1587.32" y="519.5" font-size="30.4" fill="#000" font-weight="normal" textLength="337.73" lengthAdjust="spacingAndGlyphs" >IVIS imaging once a week</text>
<g fill="#000"><circle cx="83.6" cy="1091.4" r="1.75"/><circle cx="92.6" cy="1091.4" r="1.75"/><circle cx="101.6" cy="1091.4" r="1.75"/><circle cx="110.7" cy="1091.4" r="1.75"/><circle cx="119.7" cy="1091.4" r="1.75"/><circle cx="128.7" cy="1091.4" r="1.75"/><circle cx="137.8" cy="1091.4" r="1.75"/><circle cx="146.8" cy="1091.4" r="1.75"/><circle cx="155.8" cy="1091.4" r="1.75"/><circle cx="164.8" cy="1091.4" r="1.75"/><circle cx="173.9" cy="1091.4" r="1.75"/><circle cx="182.9" cy="1091.4" r="1.75"/><circle cx="191.9" cy="1091.4" r="1.75"/><circle cx="201.0" cy="1091.4" r="1.75"/><circle cx="210.0" cy="1091.4" r="1.75"/><circle cx="219.0" cy="1091.4" r="1.75"/><circle cx="228.1" cy="1091.4" r="1.75"/><circle cx="237.1" cy="1091.4" r="1.75"/><circle cx="246.1" cy="1091.4" r="1.75"/><circle cx="255.1" cy="1091.4" r="1.75"/><circle cx="264.2" cy="1091.4" r="1.75"/><circle cx="273.2" cy="1091.4" r="1.75"/><circle cx="282.2" cy="1091.4" r="1.75"/><circle cx="291.3" cy="1091.4" r="1.75"/><circle cx="300.3" cy="1091.4" r="1.75"/><circle cx="309.3" cy="1091.4" r="1.75"/><circle cx="318.3" cy="1091.4" r="1.75"/><circle cx="327.4" cy="1091.4" r="1.75"/><circle cx="336.4" cy="1091.4" r="1.75"/><circle cx="345.4" cy="1091.4" r="1.75"/><circle cx="354.5" cy="1091.4" r="1.75"/><circle cx="363.5" cy="1091.4" r="1.75"/><circle cx="372.5" cy="1091.4" r="1.75"/><circle cx="381.6" cy="1091.4" r="1.75"/><circle cx="390.6" cy="1091.4" r="1.75"/><circle cx="399.6" cy="1091.4" r="1.75"/><circle cx="408.6" cy="1091.4" r="1.75"/><circle cx="417.7" cy="1091.4" r="1.75"/><circle cx="426.7" cy="1091.4" r="1.75"/><circle cx="435.7" cy="1091.4" r="1.75"/><circle cx="444.8" cy="1091.4" r="1.75"/><circle cx="453.8" cy="1091.4" r="1.75"/><circle cx="462.8" cy="1091.4" r="1.75"/><circle cx="471.9" cy="1091.4" r="1.75"/><circle cx="480.9" cy="1091.4" r="1.75"/><circle cx="489.9" cy="1091.4" r="1.75"/><circle cx="498.9" cy="1091.4" r="1.75"/><circle cx="508.0" cy="1091.4" r="1.75"/><circle cx="517.0" cy="1091.4" r="1.75"/><circle cx="526.0" cy="1091.4" r="1.75"/><circle cx="535.1" cy="1091.4" r="1.75"/><circle cx="544.1" cy="1091.4" r="1.75"/><circle cx="553.1" cy="1091.4" r="1.75"/><circle cx="562.2" cy="1091.4" r="1.75"/><circle cx="571.2" cy="1091.4" r="1.75"/></g>
<line x1="80.0" y1="1091.4" x2="571.5" y2="1091.4" stroke="#000" stroke-width="1.8" />
<line x1="92.6" y1="692.0" x2="92.6" y2="1092.4" stroke="#000" stroke-width="1.9" />
<line x1="120.4" y1="1091.4" x2="120.4" y2="1104.4" stroke="#000" stroke-width="1.95" />
<text x="120.4" y="1121.9" font-size="16.3" fill="#000" text-anchor="middle" font-weight="normal" >1</text>
<line x1="180.7" y1="1091.4" x2="180.7" y2="1104.4" stroke="#000" stroke-width="1.95" />
<text x="180.7" y="1121.9" font-size="16.3" fill="#000" text-anchor="middle" font-weight="normal" >4</text>
<line x1="240.9" y1="1091.4" x2="240.9" y2="1104.4" stroke="#000" stroke-width="1.95" />
<text x="240.9" y="1121.9" font-size="16.3" fill="#000" text-anchor="middle" font-weight="normal" >8</text>
<line x1="301.2" y1="1091.4" x2="301.2" y2="1104.4" stroke="#000" stroke-width="1.95" />
<text x="301.2" y="1121.9" font-size="16.3" fill="#000" text-anchor="middle" font-weight="normal" >15</text>
<line x1="361.4" y1="1091.4" x2="361.4" y2="1104.4" stroke="#000" stroke-width="1.95" />
<text x="361.4" y="1121.9" font-size="16.3" fill="#000" text-anchor="middle" font-weight="normal" >21</text>
<line x1="421.7" y1="1091.4" x2="421.7" y2="1104.4" stroke="#000" stroke-width="1.95" />
<text x="421.7" y="1121.9" font-size="16.3" fill="#000" text-anchor="middle" font-weight="normal" >28</text>
<line x1="482.0" y1="1091.4" x2="482.0" y2="1104.4" stroke="#000" stroke-width="1.95" />
<text x="482.0" y="1121.9" font-size="16.3" fill="#000" text-anchor="middle" font-weight="normal" >35</text>
<line x1="542.2" y1="1091.4" x2="542.2" y2="1104.4" stroke="#000" stroke-width="1.95" />
<text x="542.2" y="1121.9" font-size="16.3" fill="#000" text-anchor="middle" font-weight="normal" >42</text>
<text x="334.5" y="1156.7" font-size="24.5" fill="#000" text-anchor="middle" font-weight="normal" >Days</text>
<line x1="80.0" y1="692.4" x2="93.5" y2="692.4" stroke="#000" stroke-width="1.95" />
<line x1="80.0" y1="891.8" x2="92.6" y2="891.8" stroke="#000" stroke-width="1.95" />
<text x="77.0" y="699.0" font-size="16.3" fill="#000" text-anchor="end" font-weight="normal" >1000</text>
<text x="77.6" y="897.8" font-size="16.3" fill="#000" text-anchor="end" font-weight="normal" >500</text>
<text x="76.7" y="1097.2" font-size="16.3" fill="#000" text-anchor="end" font-weight="normal" >0</text>
<text transform="translate(26.1 896.2) rotate(-90)" font-size="25.2" text-anchor="middle" fill="#000">Tumor Size (mm<tspan font-size="20.2" dy="-10">3</tspan><tspan dy="10">)</tspan></text>
<clipPath id="clipB"><rect x="60" y="600" width="540" height="492.4"/></clipPath>
<g fill="#FF0000" clip-path="url(#clipB)"><line x1="101.0" y1="1046.4" x2="101.0" y2="1091.4" stroke="#FF0000" stroke-width="1.6"/><circle cx="101.0" cy="1046.4" r="3.7"/><circle cx="99.3" cy="1055.0" r="3.7"/><circle cx="101.0" cy="1057.6" r="3.7"/><circle cx="102.7" cy="1060.1" r="3.7"/><circle cx="100.2" cy="1062.7" r="3.7"/><circle cx="101.8" cy="1065.2" r="3.7"/><circle cx="99.3" cy="1067.8" r="3.7"/><circle cx="101.0" cy="1070.3" r="3.7"/><circle cx="102.7" cy="1072.9" r="3.7"/><circle cx="100.2" cy="1075.4" r="3.7"/><circle cx="101.8" cy="1078.0" r="3.7"/><circle cx="101.0" cy="1084.5" r="3.7"/><circle cx="101.0" cy="1091.4" r="3.7"/></g>
<g fill="#0000FF" clip-path="url(#clipB)"><line x1="114.1" y1="1046.5" x2="114.1" y2="1091.4" stroke="#0000FF" stroke-width="1.6"/><circle cx="112.4" cy="1046.5" r="3.7"/><circle cx="114.1" cy="1049.0" r="3.7"/><circle cx="115.8" cy="1051.4" r="3.7"/><circle cx="113.2" cy="1053.9" r="3.7"/><circle cx="114.9" cy="1056.3" r="3.7"/><circle cx="112.4" cy="1058.8" r="3.7"/><circle cx="114.1" cy="1061.2" r="3.7"/><circle cx="115.8" cy="1063.7" r="3.7"/><circle cx="113.2" cy="1066.2" r="3.7"/><circle cx="114.9" cy="1068.6" r="3.7"/><circle cx="112.4" cy="1071.1" r="3.7"/><circle cx="114.1" cy="1073.5" r="3.7"/><circle cx="115.8" cy="1076.0" r="3.7"/><circle cx="114.1" cy="1091.4" r="3.7"/></g>
<g fill="#000000" clip-path="url(#clipB)"><line x1="126.8" y1="1060.5" x2="126.8" y2="1084.0" stroke="#000000" stroke-width="1.6"/><circle cx="125.1" cy="1060.5" r="3.7"/><circle cx="126.8" cy="1063.1" r="3.7"/><circle cx="128.5" cy="1065.7" r="3.7"/><circle cx="126.0" cy="1068.3" r="3.7"/><circle cx="127.6" cy="1070.9" r="3.7"/><circle cx="125.1" cy="1073.6" r="3.7"/><circle cx="126.8" cy="1076.2" r="3.7"/><circle cx="128.5" cy="1078.8" r="3.7"/><circle cx="126.0" cy="1081.4" r="3.7"/><circle cx="127.6" cy="1084.0" r="3.7"/></g>
<g fill="#00FF00" clip-path="url(#clipB)"><line x1="139.8" y1="1054.5" x2="139.8" y2="1078.5" stroke="#00FF00" stroke-width="1.6"/><circle cx="138.1" cy="1054.5" r="3.7"/><circle cx="139.8" cy="1056.9" r="3.7"/><circle cx="141.5" cy="1059.3" r="3.7"/><circle cx="139.0" cy="1061.7" r="3.7"/><circle cx="140.7" cy="1064.1" r="3.7"/><circle cx="138.1" cy="1066.5" r="3.7"/><circle cx="139.8" cy="1068.9" r="3.7"/><circle cx="141.5" cy="1071.3" r="3.7"/><circle cx="139.0" cy="1073.7" r="3.7"/><circle cx="140.7" cy="1076.1" r="3.7"/><circle cx="138.1" cy="1078.5" r="3.7"/></g>
<g fill="#FF0000" clip-path="url(#clipB)"><line x1="161.3" y1="1060.0" x2="161.3" y2="1091.4" stroke="#FF0000" stroke-width="1.6"/><circle cx="159.6" cy="1060.0" r="3.7"/><circle cx="161.3" cy="1062.4" r="3.7"/><circle cx="163.0" cy="1064.8" r="3.7"/><circle cx="160.4" cy="1067.2" r="3.7"/><circle cx="162.1" cy="1069.6" r="3.7"/><circle cx="159.6" cy="1072.0" r="3.7"/><circle cx="161.3" cy="1074.4" r="3.7"/><circle cx="163.0" cy="1076.8" r="3.7"/><circle cx="160.4" cy="1079.2" r="3.7"/><circle cx="162.1" cy="1081.6" r="3.7"/><circle cx="159.6" cy="1084.0" r="3.7"/><circle cx="161.3" cy="1091.4" r="3.7"/></g>
<g fill="#0000FF" clip-path="url(#clipB)"><line x1="174.4" y1="1040.6" x2="174.4" y2="1091.4" stroke="#0000FF" stroke-width="1.6"/><circle cx="174.4" cy="1040.6" r="3.7"/><circle cx="172.7" cy="1053.0" r="3.7"/><circle cx="174.4" cy="1055.5" r="3.7"/><circle cx="176.1" cy="1058.1" r="3.7"/><circle cx="173.6" cy="1060.6" r="3.7"/><circle cx="175.2" cy="1063.2" r="3.7"/><circle cx="172.7" cy="1065.7" r="3.7"/><circle cx="174.4" cy="1068.2" r="3.7"/><circle cx="176.1" cy="1070.8" r="3.7"/><circle cx="173.6" cy="1073.3" r="3.7"/><circle cx="175.2" cy="1075.8" r="3.7"/><circle cx="172.7" cy="1078.4" r="3.7"/><circle cx="174.4" cy="1080.9" r="3.7"/><circle cx="176.1" cy="1083.5" r="3.7"/><circle cx="173.6" cy="1086.0" r="3.7"/><circle cx="174.4" cy="1091.4" r="3.7"/></g>
<g fill="#000000" clip-path="url(#clipB)"><line x1="187.1" y1="1060.0" x2="187.1" y2="1084.0" stroke="#000000" stroke-width="1.6"/><circle cx="185.4" cy="1060.0" r="3.7"/><circle cx="187.1" cy="1062.4" r="3.7"/><circle cx="188.8" cy="1064.8" r="3.7"/><circle cx="186.2" cy="1067.2" r="3.7"/><circle cx="187.9" cy="1069.6" r="3.7"/><circle cx="185.4" cy="1072.0" r="3.7"/><circle cx="187.1" cy="1074.4" r="3.7"/><circle cx="188.8" cy="1076.8" r="3.7"/><circle cx="186.2" cy="1079.2" r="3.7"/><circle cx="187.9" cy="1081.6" r="3.7"/><circle cx="185.4" cy="1084.0" r="3.7"/></g>
<g fill="#00FF00" clip-path="url(#clipB)"><line x1="200.1" y1="1065.0" x2="200.1" y2="1080.0" stroke="#00FF00" stroke-width="1.6"/><circle cx="198.4" cy="1065.0" r="3.7"/><circle cx="200.1" cy="1067.5" r="3.7"/><circle cx="201.8" cy="1070.0" r="3.7"/><circle cx="199.2" cy="1072.5" r="3.7"/><circle cx="200.9" cy="1075.0" r="3.7"/><circle cx="198.4" cy="1077.5" r="3.7"/><circle cx="200.1" cy="1080.0" r="3.7"/></g>
<g fill="#FF0000" clip-path="url(#clipB)"><line x1="221.1" y1="1005.7" x2="221.1" y2="1086.4" stroke="#FF0000" stroke-width="1.6"/><circle cx="221.1" cy="1005.7" r="3.7"/><circle cx="219.4" cy="1039.4" r="3.7"/><circle cx="221.1" cy="1041.9" r="3.7"/><circle cx="222.8" cy="1044.3" r="3.7"/><circle cx="220.2" cy="1046.8" r="3.7"/><circle cx="221.9" cy="1049.3" r="3.7"/><circle cx="219.4" cy="1051.8" r="3.7"/><circle cx="221.1" cy="1054.2" r="3.7"/><circle cx="222.8" cy="1056.7" r="3.7"/><circle cx="220.2" cy="1059.2" r="3.7"/><circle cx="221.9" cy="1061.7" r="3.7"/><circle cx="219.4" cy="1064.1" r="3.7"/><circle cx="221.1" cy="1066.6" r="3.7"/><circle cx="222.8" cy="1069.1" r="3.7"/><circle cx="220.2" cy="1071.6" r="3.7"/><circle cx="221.9" cy="1074.0" r="3.7"/><circle cx="219.4" cy="1076.5" r="3.7"/><circle cx="221.1" cy="1079.0" r="3.7"/><circle cx="222.8" cy="1081.5" r="3.7"/><circle cx="220.2" cy="1083.9" r="3.7"/><circle cx="221.9" cy="1086.4" r="3.7"/></g>
<g fill="#0000FF" clip-path="url(#clipB)"><line x1="234.2" y1="1060.0" x2="234.2" y2="1091.4" stroke="#0000FF" stroke-width="1.6"/><circle cx="232.5" cy="1060.0" r="3.7"/><circle cx="234.2" cy="1062.4" r="3.7"/><circle cx="235.9" cy="1064.8" r="3.7"/><circle cx="233.4" cy="1067.1" r="3.7"/><circle cx="235.1" cy="1069.5" r="3.7"/><circle cx="232.5" cy="1071.9" r="3.7"/><circle cx="234.2" cy="1074.2" r="3.7"/><circle cx="235.9" cy="1076.6" r="3.7"/><circle cx="233.4" cy="1079.0" r="3.7"/><circle cx="234.2" cy="1091.4" r="3.7"/></g>
<g fill="#000000" clip-path="url(#clipB)"><line x1="246.9" y1="1063.0" x2="246.9" y2="1085.0" stroke="#000000" stroke-width="1.6"/><circle cx="245.2" cy="1063.0" r="3.7"/><circle cx="246.9" cy="1065.4" r="3.7"/><circle cx="248.6" cy="1067.9" r="3.7"/><circle cx="246.1" cy="1070.3" r="3.7"/><circle cx="247.8" cy="1072.8" r="3.7"/><circle cx="245.2" cy="1075.2" r="3.7"/><circle cx="246.9" cy="1077.7" r="3.7"/><circle cx="248.6" cy="1080.1" r="3.7"/><circle cx="246.1" cy="1082.6" r="3.7"/><circle cx="247.8" cy="1085.0" r="3.7"/></g>
<g fill="#00FF00" clip-path="url(#clipB)"><line x1="259.9" y1="1056.0" x2="259.9" y2="1091.4" stroke="#00FF00" stroke-width="1.6"/><circle cx="258.2" cy="1056.0" r="3.7"/><circle cx="259.9" cy="1058.5" r="3.7"/><circle cx="261.6" cy="1061.1" r="3.7"/><circle cx="259.0" cy="1063.6" r="3.7"/><circle cx="260.8" cy="1066.1" r="3.7"/><circle cx="258.2" cy="1068.6" r="3.7"/><circle cx="259.9" cy="1071.2" r="3.7"/><circle cx="261.6" cy="1073.7" r="3.7"/><circle cx="259.0" cy="1076.2" r="3.7"/><circle cx="260.8" cy="1078.8" r="3.7"/><circle cx="258.2" cy="1081.3" r="3.7"/><circle cx="259.9" cy="1083.8" r="3.7"/><circle cx="261.6" cy="1086.3" r="3.7"/><circle cx="259.0" cy="1088.9" r="3.7"/><circle cx="260.8" cy="1091.4" r="3.7"/></g>
<g fill="#FF0000" clip-path="url(#clipB)"><line x1="281.3" y1="1025.0" x2="281.3" y2="1091.4" stroke="#FF0000" stroke-width="1.6"/><circle cx="281.3" cy="1025.0" r="3.7"/><circle cx="281.3" cy="1032.0" r="3.7"/><circle cx="279.6" cy="1040.0" r="3.7"/><circle cx="281.3" cy="1042.4" r="3.7"/><circle cx="283.0" cy="1044.9" r="3.7"/><circle cx="280.4" cy="1047.3" r="3.7"/><circle cx="282.2" cy="1049.8" r="3.7"/><circle cx="279.6" cy="1052.2" r="3.7"/><circle cx="281.3" cy="1054.7" r="3.7"/><circle cx="283.0" cy="1057.1" r="3.7"/><circle cx="280.4" cy="1059.6" r="3.7"/><circle cx="282.2" cy="1062.0" r="3.7"/><circle cx="281.3" cy="1069.0" r="3.7"/><circle cx="281.3" cy="1073.5" r="3.7"/><circle cx="281.3" cy="1091.4" r="3.7"/></g>
<g fill="#0000FF" clip-path="url(#clipB)"><line x1="294.4" y1="1024.4" x2="294.4" y2="1081.6" stroke="#0000FF" stroke-width="1.6"/><circle cx="294.4" cy="1024.4" r="3.7"/><circle cx="294.4" cy="1037.6" r="3.7"/><circle cx="292.7" cy="1044.0" r="3.7"/><circle cx="294.4" cy="1046.6" r="3.7"/><circle cx="296.1" cy="1049.1" r="3.7"/><circle cx="293.6" cy="1051.7" r="3.7"/><circle cx="295.3" cy="1054.3" r="3.7"/><circle cx="292.7" cy="1056.9" r="3.7"/><circle cx="294.4" cy="1059.4" r="3.7"/><circle cx="296.1" cy="1062.0" r="3.7"/><circle cx="294.4" cy="1074.3" r="3.7"/><circle cx="294.4" cy="1081.6" r="3.7"/></g>
<g fill="#000000" clip-path="url(#clipB)"><line x1="307.1" y1="1058.0" x2="307.1" y2="1085.8" stroke="#000000" stroke-width="1.6"/><circle cx="305.4" cy="1058.0" r="3.7"/><circle cx="307.1" cy="1060.5" r="3.7"/><circle cx="308.8" cy="1063.1" r="3.7"/><circle cx="306.2" cy="1065.6" r="3.7"/><circle cx="308.0" cy="1068.1" r="3.7"/><circle cx="305.4" cy="1070.6" r="3.7"/><circle cx="307.1" cy="1073.2" r="3.7"/><circle cx="308.8" cy="1075.7" r="3.7"/><circle cx="306.2" cy="1078.2" r="3.7"/><circle cx="308.0" cy="1080.7" r="3.7"/><circle cx="305.4" cy="1083.3" r="3.7"/><circle cx="307.1" cy="1085.8" r="3.7"/></g>
<g fill="#00FF00" clip-path="url(#clipB)"><line x1="320.1" y1="1065.0" x2="320.1" y2="1091.4" stroke="#00FF00" stroke-width="1.6"/><circle cx="318.4" cy="1065.0" r="3.7"/><circle cx="320.1" cy="1067.4" r="3.7"/><circle cx="321.8" cy="1069.8" r="3.7"/><circle cx="319.2" cy="1072.2" r="3.7"/><circle cx="321.0" cy="1074.6" r="3.7"/><circle cx="318.4" cy="1077.0" r="3.7"/><circle cx="320.1" cy="1079.4" r="3.7"/><circle cx="321.8" cy="1081.8" r="3.7"/><circle cx="319.2" cy="1084.2" r="3.7"/><circle cx="321.0" cy="1086.6" r="3.7"/><circle cx="318.4" cy="1089.0" r="3.7"/><circle cx="320.1" cy="1091.4" r="3.7"/></g>
<g fill="#FF0000" clip-path="url(#clipB)"><line x1="341.7" y1="990.8" x2="341.7" y2="1064.5" stroke="#FF0000" stroke-width="1.6"/><rect x="338.5" y="1009.0" width="6.4" height="31.8" fill="#fff" stroke="#FF0000" stroke-width="1.6"/><line x1="337.0" y1="1025.0" x2="346.4" y2="1025.0" stroke="#FF0000" stroke-width="1.6"/><circle cx="341.7" cy="990.8" r="3.7"/><circle cx="340.0" cy="1005.7" r="3.7"/><circle cx="341.7" cy="1008.1" r="3.7"/><circle cx="343.4" cy="1010.6" r="3.7"/><circle cx="340.8" cy="1013.0" r="3.7"/><circle cx="342.6" cy="1015.4" r="3.7"/><circle cx="340.0" cy="1017.9" r="3.7"/><circle cx="341.7" cy="1020.3" r="3.7"/><circle cx="343.4" cy="1022.7" r="3.7"/><circle cx="340.8" cy="1025.1" r="3.7"/><circle cx="342.6" cy="1027.6" r="3.7"/><circle cx="340.0" cy="1030.0" r="3.7"/><circle cx="341.7" cy="1032.4" r="3.7"/><circle cx="343.4" cy="1034.9" r="3.7"/><circle cx="340.8" cy="1037.3" r="3.7"/><circle cx="341.7" cy="1054.0" r="3.7"/><circle cx="341.7" cy="1064.5" r="3.7"/></g>
<g fill="#0000FF" clip-path="url(#clipB)"><line x1="354.8" y1="914.8" x2="354.8" y2="1055.8" stroke="#0000FF" stroke-width="1.6"/><rect x="351.6" y="1010.0" width="6.4" height="35.0" fill="#fff" stroke="#0000FF" stroke-width="1.6"/><line x1="350.1" y1="1028.0" x2="359.5" y2="1028.0" stroke="#0000FF" stroke-width="1.6"/><circle cx="354.8" cy="914.8" r="3.7"/><circle cx="354.8" cy="968.8" r="3.7"/><circle cx="353.1" cy="1005.7" r="3.7"/><circle cx="354.8" cy="1008.2" r="3.7"/><circle cx="356.5" cy="1010.7" r="3.7"/><circle cx="353.9" cy="1013.1" r="3.7"/><circle cx="355.7" cy="1015.6" r="3.7"/><circle cx="353.1" cy="1018.1" r="3.7"/><circle cx="354.8" cy="1020.6" r="3.7"/><circle cx="356.5" cy="1023.0" r="3.7"/><circle cx="353.9" cy="1025.5" r="3.7"/><circle cx="355.7" cy="1028.0" r="3.7"/><circle cx="353.1" cy="1030.5" r="3.7"/><circle cx="354.8" cy="1032.9" r="3.7"/><circle cx="356.5" cy="1035.4" r="3.7"/><circle cx="353.9" cy="1037.9" r="3.7"/><circle cx="355.7" cy="1040.4" r="3.7"/><circle cx="353.1" cy="1042.8" r="3.7"/><circle cx="354.8" cy="1045.3" r="3.7"/><circle cx="356.5" cy="1047.8" r="3.7"/><circle cx="354.8" cy="1055.8" r="3.7"/></g>
<g fill="#000000" clip-path="url(#clipB)"><line x1="367.5" y1="1054.0" x2="367.5" y2="1086.5" stroke="#000000" stroke-width="1.6"/><circle cx="365.8" cy="1054.0" r="3.7"/><circle cx="367.5" cy="1056.5" r="3.7"/><circle cx="369.2" cy="1059.0" r="3.7"/><circle cx="366.6" cy="1061.5" r="3.7"/><circle cx="368.4" cy="1064.0" r="3.7"/><circle cx="365.8" cy="1066.5" r="3.7"/><circle cx="367.5" cy="1069.0" r="3.7"/><circle cx="369.2" cy="1071.5" r="3.7"/><circle cx="366.6" cy="1074.0" r="3.7"/><circle cx="368.4" cy="1076.5" r="3.7"/><circle cx="365.8" cy="1079.0" r="3.7"/><circle cx="367.5" cy="1081.5" r="3.7"/><circle cx="369.2" cy="1084.0" r="3.7"/><circle cx="366.6" cy="1086.5" r="3.7"/></g>
<g fill="#00FF00" clip-path="url(#clipB)"><line x1="380.5" y1="1055.8" x2="380.5" y2="1090.0" stroke="#00FF00" stroke-width="1.6"/><circle cx="378.8" cy="1055.8" r="3.7"/><circle cx="380.5" cy="1058.2" r="3.7"/><circle cx="382.2" cy="1060.7" r="3.7"/><circle cx="379.6" cy="1063.1" r="3.7"/><circle cx="381.4" cy="1065.6" r="3.7"/><circle cx="378.8" cy="1068.0" r="3.7"/><circle cx="380.5" cy="1070.5" r="3.7"/><circle cx="382.2" cy="1072.9" r="3.7"/><circle cx="379.6" cy="1075.3" r="3.7"/><circle cx="381.4" cy="1077.8" r="3.7"/><circle cx="378.8" cy="1080.2" r="3.7"/><circle cx="380.5" cy="1082.7" r="3.7"/><circle cx="382.2" cy="1085.1" r="3.7"/><circle cx="379.6" cy="1087.6" r="3.7"/><circle cx="381.4" cy="1090.0" r="3.7"/></g>
<g fill="#FF0000" clip-path="url(#clipB)"><line x1="401.9" y1="919.7" x2="401.9" y2="1060.0" stroke="#FF0000" stroke-width="1.6"/><rect x="398.7" y="955.7" width="6.4" height="94.8" fill="#fff" stroke="#FF0000" stroke-width="1.6"/><line x1="397.2" y1="1015.4" x2="406.6" y2="1015.4" stroke="#FF0000" stroke-width="1.6"/><circle cx="401.9" cy="919.7" r="3.7"/><circle cx="401.9" cy="925.0" r="3.7"/><circle cx="401.9" cy="945.7" r="3.7"/><circle cx="401.9" cy="955.7" r="3.7"/><circle cx="401.9" cy="991.7" r="3.7"/><circle cx="401.9" cy="1009.2" r="3.7"/><circle cx="400.7" cy="1015.4" r="3.7"/><circle cx="401.9" cy="1021.5" r="3.7"/><circle cx="401.9" cy="1033.0" r="3.7"/><circle cx="401.9" cy="1046.0" r="3.7"/><circle cx="403.1" cy="1053.0" r="3.7"/><circle cx="401.9" cy="1060.0" r="3.7"/></g>
<g fill="#0000FF" clip-path="url(#clipB)"><line x1="415.0" y1="872.6" x2="415.0" y2="1035.5" stroke="#0000FF" stroke-width="1.6"/><rect x="411.8" y="976.7" width="6.4" height="46.6" fill="#fff" stroke="#0000FF" stroke-width="1.6"/><line x1="410.3" y1="994.0" x2="419.7" y2="994.0" stroke="#0000FF" stroke-width="1.6"/><circle cx="415.0" cy="872.6" r="3.7"/><circle cx="415.0" cy="913.5" r="3.7"/><circle cx="416.5" cy="976.7" r="3.7"/><circle cx="415.0" cy="983.0" r="3.7"/><circle cx="415.0" cy="990.0" r="3.7"/><circle cx="416.2" cy="994.0" r="3.7"/><circle cx="415.0" cy="1005.7" r="3.7"/><circle cx="415.0" cy="1011.0" r="3.7"/><circle cx="415.0" cy="1019.0" r="3.7"/><circle cx="415.0" cy="1023.3" r="3.7"/><circle cx="416.6" cy="1033.8" r="3.7"/><circle cx="413.8" cy="1035.5" r="3.7"/></g>
<g fill="#000000" clip-path="url(#clipB)"><line x1="427.7" y1="1006.6" x2="427.7" y2="1079.5" stroke="#000000" stroke-width="1.6"/><circle cx="427.7" cy="1006.6" r="3.7"/><circle cx="427.7" cy="1033.8" r="3.7"/><circle cx="427.7" cy="1046.0" r="3.7"/><circle cx="426.0" cy="1053.0" r="3.7"/><circle cx="427.7" cy="1055.4" r="3.7"/><circle cx="429.4" cy="1057.8" r="3.7"/><circle cx="426.8" cy="1060.2" r="3.7"/><circle cx="428.6" cy="1062.6" r="3.7"/><circle cx="426.0" cy="1065.0" r="3.7"/><circle cx="427.7" cy="1067.5" r="3.7"/><circle cx="429.4" cy="1069.9" r="3.7"/><circle cx="426.8" cy="1072.3" r="3.7"/><circle cx="428.6" cy="1074.7" r="3.7"/><circle cx="426.0" cy="1077.1" r="3.7"/><circle cx="427.7" cy="1079.5" r="3.7"/></g>
<g fill="#00FF00" clip-path="url(#clipB)"><line x1="440.7" y1="1064.5" x2="440.7" y2="1090.0" stroke="#00FF00" stroke-width="1.6"/><circle cx="439.0" cy="1064.5" r="3.7"/><circle cx="440.7" cy="1067.0" r="3.7"/><circle cx="442.4" cy="1069.6" r="3.7"/><circle cx="439.8" cy="1072.2" r="3.7"/><circle cx="441.6" cy="1074.7" r="3.7"/><circle cx="439.0" cy="1077.2" r="3.7"/><circle cx="440.7" cy="1079.8" r="3.7"/><circle cx="442.4" cy="1082.3" r="3.7"/><circle cx="439.8" cy="1084.9" r="3.7"/><circle cx="441.6" cy="1087.5" r="3.7"/><circle cx="439.0" cy="1090.0" r="3.7"/></g>
<g fill="#FF0000" clip-path="url(#clipB)"><line x1="462.2" y1="876.3" x2="462.2" y2="1047.0" stroke="#FF0000" stroke-width="1.6"/><rect x="459.0" y="912.7" width="6.4" height="134.3" fill="#fff" stroke="#FF0000" stroke-width="1.6"/><line x1="457.5" y1="1003.0" x2="466.9" y2="1003.0" stroke="#FF0000" stroke-width="1.6"/><circle cx="462.2" cy="876.3" r="3.7"/><circle cx="462.2" cy="889.0" r="3.7"/><circle cx="462.2" cy="893.4" r="3.7"/><circle cx="462.2" cy="911.0" r="3.7"/><circle cx="462.2" cy="914.4" r="3.7"/><circle cx="462.2" cy="939.9" r="3.7"/><circle cx="462.2" cy="990.8" r="3.7"/><circle cx="462.2" cy="1004.0" r="3.7"/><circle cx="462.2" cy="1033.0" r="3.7"/><circle cx="461.2" cy="1042.6" r="3.7"/><circle cx="463.4" cy="1047.0" r="3.7"/></g>
<g fill="#0000FF" clip-path="url(#clipB)"><line x1="475.3" y1="850.4" x2="475.3" y2="1024.0" stroke="#0000FF" stroke-width="1.6"/><rect x="472.1" y="947.8" width="6.4" height="56.2" fill="#fff" stroke="#0000FF" stroke-width="1.6"/><line x1="470.6" y1="970.0" x2="480.0" y2="970.0" stroke="#0000FF" stroke-width="1.6"/><circle cx="475.3" cy="850.4" r="3.7"/><circle cx="475.3" cy="875.0" r="3.7"/><circle cx="475.3" cy="930.6" r="3.7"/><circle cx="473.6" cy="949.5" r="3.7"/><circle cx="475.3" cy="952.0" r="3.7"/><circle cx="477.0" cy="954.6" r="3.7"/><circle cx="474.4" cy="957.1" r="3.7"/><circle cx="476.2" cy="959.6" r="3.7"/><circle cx="473.6" cy="962.2" r="3.7"/><circle cx="475.3" cy="964.7" r="3.7"/><circle cx="477.0" cy="967.2" r="3.7"/><circle cx="474.4" cy="969.8" r="3.7"/><circle cx="476.2" cy="972.3" r="3.7"/><circle cx="473.6" cy="974.8" r="3.7"/><circle cx="475.3" cy="977.3" r="3.7"/><circle cx="477.0" cy="979.9" r="3.7"/><circle cx="474.4" cy="982.4" r="3.7"/><circle cx="476.2" cy="984.9" r="3.7"/><circle cx="473.6" cy="987.5" r="3.7"/><circle cx="475.3" cy="990.0" r="3.7"/><circle cx="475.3" cy="1004.0" r="3.7"/><circle cx="475.3" cy="1015.4" r="3.7"/><circle cx="476.8" cy="1020.6" r="3.7"/><circle cx="473.8" cy="1024.0" r="3.7"/></g>
<g fill="#000000" clip-path="url(#clipB)"><line x1="488.0" y1="996.5" x2="488.0" y2="1074.0" stroke="#000000" stroke-width="1.6"/><circle cx="488.8" cy="996.5" r="3.7"/><circle cx="488.0" cy="999.0" r="3.7"/><circle cx="488.0" cy="1014.5" r="3.7"/><circle cx="488.0" cy="1028.5" r="3.7"/><circle cx="486.3" cy="1039.0" r="3.7"/><circle cx="488.0" cy="1041.5" r="3.7"/><circle cx="489.7" cy="1044.0" r="3.7"/><circle cx="487.1" cy="1046.5" r="3.7"/><circle cx="488.9" cy="1049.0" r="3.7"/><circle cx="486.3" cy="1051.5" r="3.7"/><circle cx="488.0" cy="1054.0" r="3.7"/><circle cx="489.7" cy="1056.5" r="3.7"/><circle cx="487.1" cy="1059.0" r="3.7"/><circle cx="488.9" cy="1061.5" r="3.7"/><circle cx="486.3" cy="1064.0" r="3.7"/><circle cx="488.0" cy="1066.5" r="3.7"/><circle cx="489.7" cy="1069.0" r="3.7"/><circle cx="487.1" cy="1071.5" r="3.7"/><circle cx="488.9" cy="1074.0" r="3.7"/></g>
<g fill="#00FF00" clip-path="url(#clipB)"><line x1="501.0" y1="1047.0" x2="501.0" y2="1090.0" stroke="#00FF00" stroke-width="1.6"/><circle cx="501.0" cy="1047.0" r="3.7"/><circle cx="499.3" cy="1054.9" r="3.7"/><circle cx="501.0" cy="1057.4" r="3.7"/><circle cx="502.7" cy="1059.9" r="3.7"/><circle cx="500.1" cy="1062.4" r="3.7"/><circle cx="501.9" cy="1064.9" r="3.7"/><circle cx="499.3" cy="1067.4" r="3.7"/><circle cx="501.0" cy="1069.9" r="3.7"/><circle cx="502.7" cy="1072.5" r="3.7"/><circle cx="500.1" cy="1075.0" r="3.7"/><circle cx="501.9" cy="1077.5" r="3.7"/><circle cx="499.3" cy="1080.0" r="3.7"/><circle cx="501.0" cy="1082.5" r="3.7"/><circle cx="502.7" cy="1085.0" r="3.7"/><circle cx="500.1" cy="1087.5" r="3.7"/><circle cx="501.9" cy="1090.0" r="3.7"/></g>
<g fill="#FF0000" clip-path="url(#clipB)"><line x1="522.9" y1="795.8" x2="522.9" y2="1045.0" stroke="#FF0000" stroke-width="1.6"/><rect x="519.7" y="829.8" width="6.4" height="196.2" fill="#fff" stroke="#FF0000" stroke-width="1.6"/><line x1="518.2" y1="971.0" x2="527.6" y2="971.0" stroke="#FF0000" stroke-width="1.6"/><circle cx="524.3" cy="795.8" r="3.7"/><circle cx="521.7" cy="799.9" r="3.7"/><circle cx="522.9" cy="823.4" r="3.7"/><circle cx="522.9" cy="829.8" r="3.7"/><circle cx="522.9" cy="847.0" r="3.7"/><circle cx="522.9" cy="885.0" r="3.7"/><circle cx="524.3" cy="967.0" r="3.7"/><circle cx="521.9" cy="971.5" r="3.7"/><circle cx="522.9" cy="981.0" r="3.7"/><circle cx="522.9" cy="990.0" r="3.7"/><circle cx="522.9" cy="1012.7" r="3.7"/><circle cx="524.4" cy="1026.0" r="3.7"/><circle cx="522.9" cy="1030.3" r="3.7"/><circle cx="524.5" cy="1042.6" r="3.7"/><circle cx="521.5" cy="1045.0" r="3.7"/></g>
<g fill="#0000FF" clip-path="url(#clipB)"><line x1="536.0" y1="813.0" x2="536.0" y2="1003.6" stroke="#0000FF" stroke-width="1.6"/><rect x="532.8" y="887.0" width="6.4" height="80.0" fill="#fff" stroke="#0000FF" stroke-width="1.6"/><line x1="531.3" y1="946.0" x2="540.7" y2="946.0" stroke="#0000FF" stroke-width="1.6"/><circle cx="537.3" cy="813.0" r="3.7"/><circle cx="534.6" cy="815.5" r="3.7"/><circle cx="536.0" cy="843.0" r="3.7"/><circle cx="536.0" cy="886.2" r="3.7"/><circle cx="536.0" cy="890.0" r="3.7"/><circle cx="536.0" cy="897.0" r="3.7"/><circle cx="537.0" cy="902.0" r="3.7"/><circle cx="537.5" cy="940.8" r="3.7"/><circle cx="535.0" cy="946.0" r="3.7"/><circle cx="536.0" cy="955.7" r="3.7"/><circle cx="536.0" cy="969.7" r="3.7"/><circle cx="534.7" cy="979.4" r="3.7"/><circle cx="537.5" cy="985.5" r="3.7"/><circle cx="536.0" cy="1003.6" r="3.7"/></g>
<g fill="#000000" clip-path="url(#clipB)"><line x1="548.7" y1="946.0" x2="548.7" y2="1063.7" stroke="#000000" stroke-width="1.6"/><circle cx="548.7" cy="946.0" r="3.7"/><circle cx="548.7" cy="968.8" r="3.7"/><circle cx="548.7" cy="981.0" r="3.7"/><circle cx="548.7" cy="1016.0" r="3.7"/><circle cx="547.0" cy="1023.0" r="3.7"/><circle cx="548.7" cy="1025.6" r="3.7"/><circle cx="550.4" cy="1028.2" r="3.7"/><circle cx="547.9" cy="1030.8" r="3.7"/><circle cx="549.6" cy="1033.3" r="3.7"/><circle cx="547.0" cy="1035.9" r="3.7"/><circle cx="548.7" cy="1038.5" r="3.7"/><circle cx="550.4" cy="1041.1" r="3.7"/><circle cx="547.9" cy="1043.7" r="3.7"/><circle cx="549.6" cy="1046.3" r="3.7"/><circle cx="547.0" cy="1048.8" r="3.7"/><circle cx="548.7" cy="1051.4" r="3.7"/><circle cx="550.4" cy="1054.0" r="3.7"/><circle cx="547.9" cy="1056.6" r="3.7"/><circle cx="548.7" cy="1063.7" r="3.7"/></g>
<g fill="#00FF00" clip-path="url(#clipB)"><line x1="561.7" y1="1035.2" x2="561.7" y2="1090.0" stroke="#00FF00" stroke-width="1.6"/><rect x="558.5" y="1046.0" width="6.4" height="43.0" fill="#fff" stroke="#00FF00" stroke-width="1.6"/><circle cx="561.7" cy="1035.2" r="3.7"/><circle cx="560.0" cy="1046.0" r="3.7"/><circle cx="561.7" cy="1048.4" r="3.7"/><circle cx="563.4" cy="1050.9" r="3.7"/><circle cx="560.9" cy="1053.3" r="3.7"/><circle cx="562.6" cy="1055.8" r="3.7"/><circle cx="560.0" cy="1058.2" r="3.7"/><circle cx="561.7" cy="1060.7" r="3.7"/><circle cx="563.4" cy="1063.1" r="3.7"/><circle cx="560.9" cy="1065.6" r="3.7"/><circle cx="562.6" cy="1068.0" r="3.7"/><circle cx="560.0" cy="1070.4" r="3.7"/><circle cx="561.7" cy="1072.9" r="3.7"/><circle cx="563.4" cy="1075.3" r="3.7"/><circle cx="560.9" cy="1077.8" r="3.7"/><circle cx="562.6" cy="1080.2" r="3.7"/><circle cx="560.0" cy="1082.7" r="3.7"/><circle cx="561.7" cy="1085.1" r="3.7"/><circle cx="563.4" cy="1087.6" r="3.7"/><circle cx="560.9" cy="1090.0" r="3.7"/></g>
<text x="537.0" y="699.2" font-size="18.50" fill="#000" text-anchor="middle" font-weight="normal" letter-spacing="1.05">****</text>
<line x1="518.7" y1="710.4" x2="552.4" y2="710.4" stroke="#000" stroke-width="1.9" />
<line x1="518.7" y1="703.4" x2="518.7" y2="717.4" stroke="#000" stroke-width="1.9" />
<line x1="552.4" y1="703.4" x2="552.4" y2="717.4" stroke="#000" stroke-width="1.9" />
<text x="517.0" y="744.0" font-size="20.2" fill="#000" text-anchor="start" font-weight="normal" >ns</text>
<text x="560.1" y="748.2" font-size="18.50" fill="#000" text-anchor="middle" font-weight="normal" letter-spacing="1.05">****</text>
<line x1="519.0" y1="762.8" x2="536.7" y2="762.8" stroke="#000" stroke-width="1.9" />
<line x1="519.0" y1="755.8" x2="519.0" y2="769.8" stroke="#000" stroke-width="1.9" />
<line x1="536.7" y1="755.8" x2="536.7" y2="769.8" stroke="#000" stroke-width="1.9" />
<line x1="540.1" y1="762.8" x2="574.3" y2="762.8" stroke="#000" stroke-width="1.9" />
<line x1="540.1" y1="755.8" x2="540.1" y2="769.8" stroke="#000" stroke-width="1.9" />
<line x1="574.3" y1="755.8" x2="574.3" y2="769.8" stroke="#000" stroke-width="1.9" />
<text x="560.8" y="897.9" font-size="18.50" fill="#000" text-anchor="middle" font-weight="normal" letter-spacing="1.05">****</text>
<line x1="550.0" y1="922.3" x2="567.5" y2="922.3" stroke="#000" stroke-width="1.9" />
<line x1="550.0" y1="915.8" x2="550.0" y2="928.8" stroke="#000" stroke-width="1.9" />
<line x1="567.5" y1="915.8" x2="567.5" y2="928.8" stroke="#000" stroke-width="1.9" />
<rect x="96.0" y="1207.6" width="31.1" height="14.8" fill="none" stroke="#FF0000" stroke-width="1.5" />
<text x="145.83" y="1222.9" font-size="25.3" fill="#000" font-weight="normal" textLength="224.73" lengthAdjust="spacingAndGlyphs" >Human IgG sgGAL4</text>
<rect x="96.0" y="1252.3" width="31.1" height="14.8" fill="none" stroke="#0000FF" stroke-width="1.5" />
<text x="145.83" y="1267.6" font-size="25.3" fill="#000" font-weight="normal" textLength="240.55" lengthAdjust="spacingAndGlyphs" >Human IgG sgATG9A</text>
<rect x="96.0" y="1293.7" width="31.1" height="14.8" fill="none" stroke="#000000" stroke-width="1.5" />
<text x="145.71" y="1309.0" font-size="25.3" fill="#000" font-weight="normal" textLength="240.75" lengthAdjust="spacingAndGlyphs" >Trastuzumab sgGAL4</text>
<rect x="96.0" y="1339.3" width="31.1" height="14.8" fill="none" stroke="#00FF00" stroke-width="1.5" />
<text x="147.11" y="1354.6" font-size="25.3" fill="#000" font-weight="normal" textLength="254.56" lengthAdjust="spacingAndGlyphs" >Trastuzumab sgATG9A</text>
<g fill="#000"><circle cx="705.4" cy="1091.0" r="1.75"/><circle cx="714.3" cy="1091.0" r="1.75"/><circle cx="723.2" cy="1091.0" r="1.75"/><circle cx="732.0" cy="1091.0" r="1.75"/><circle cx="740.9" cy="1091.0" r="1.75"/><circle cx="749.7" cy="1091.0" r="1.75"/><circle cx="758.6" cy="1091.0" r="1.75"/><circle cx="767.4" cy="1091.0" r="1.75"/><circle cx="776.3" cy="1091.0" r="1.75"/><circle cx="785.1" cy="1091.0" r="1.75"/><circle cx="794.0" cy="1091.0" r="1.75"/><circle cx="802.9" cy="1091.0" r="1.75"/><circle cx="811.7" cy="1091.0" r="1.75"/><circle cx="820.6" cy="1091.0" r="1.75"/><circle cx="829.4" cy="1091.0" r="1.75"/><circle cx="838.3" cy="1091.0" r="1.75"/><circle cx="847.1" cy="1091.0" r="1.75"/><circle cx="856.0" cy="1091.0" r="1.75"/><circle cx="864.8" cy="1091.0" r="1.75"/><circle cx="873.7" cy="1091.0" r="1.75"/><circle cx="882.5" cy="1091.0" r="1.75"/><circle cx="891.4" cy="1091.0" r="1.75"/><circle cx="900.3" cy="1091.0" r="1.75"/><circle cx="909.1" cy="1091.0" r="1.75"/><circle cx="918.0" cy="1091.0" r="1.75"/><circle cx="926.8" cy="1091.0" r="1.75"/><circle cx="935.7" cy="1091.0" r="1.75"/><circle cx="944.5" cy="1091.0" r="1.75"/><circle cx="953.4" cy="1091.0" r="1.75"/><circle cx="962.2" cy="1091.0" r="1.75"/><circle cx="971.1" cy="1091.0" r="1.75"/><circle cx="980.0" cy="1091.0" r="1.75"/><circle cx="988.8" cy="1091.0" r="1.75"/><circle cx="997.7" cy="1091.0" r="1.75"/><circle cx="1006.5" cy="1091.0" r="1.75"/><circle cx="1015.4" cy="1091.0" r="1.75"/><circle cx="1024.2" cy="1091.0" r="1.75"/><circle cx="1033.1" cy="1091.0" r="1.75"/><circle cx="1041.9" cy="1091.0" r="1.75"/><circle cx="1050.8" cy="1091.0" r="1.75"/><circle cx="1059.6" cy="1091.0" r="1.75"/><circle cx="1068.5" cy="1091.0" r="1.75"/><circle cx="1077.4" cy="1091.0" r="1.75"/><circle cx="1086.2" cy="1091.0" r="1.75"/><circle cx="1095.1" cy="1091.0" r="1.75"/><circle cx="1103.9" cy="1091.0" r="1.75"/><circle cx="1112.8" cy="1091.0" r="1.75"/><circle cx="1121.6" cy="1091.0" r="1.75"/><circle cx="1130.5" cy="1091.0" r="1.75"/><circle cx="1139.3" cy="1091.0" r="1.75"/><circle cx="1148.2" cy="1091.0" r="1.75"/><circle cx="1157.1" cy="1091.0" r="1.75"/><circle cx="1165.9" cy="1091.0" r="1.75"/><circle cx="1174.8" cy="1091.0" r="1.75"/><circle cx="1183.6" cy="1091.0" r="1.75"/><circle cx="1192.5" cy="1091.0" r="1.75"/><circle cx="1201.3" cy="1091.0" r="1.75"/><circle cx="1210.2" cy="1091.0" r="1.75"/></g>
<line x1="702.0" y1="1091.0" x2="1214.5" y2="1091.0" stroke="#000" stroke-width="1.8" />
<line x1="714.3" y1="668.0" x2="714.3" y2="1092.0" stroke="#000" stroke-width="1.9" />
<line x1="753.3" y1="1091.0" x2="753.3" y2="1103.7" stroke="#000" stroke-width="1.95" />
<text x="753.3" y="1120.9" font-size="16.3" fill="#000" text-anchor="middle" font-weight="normal" >1</text>
<line x1="837.4" y1="1091.0" x2="837.4" y2="1103.7" stroke="#000" stroke-width="1.95" />
<text x="837.4" y="1120.9" font-size="16.3" fill="#000" text-anchor="middle" font-weight="normal" >7</text>
<line x1="921.6" y1="1091.0" x2="921.6" y2="1103.7" stroke="#000" stroke-width="1.95" />
<text x="921.6" y="1120.9" font-size="16.3" fill="#000" text-anchor="middle" font-weight="normal" >14</text>
<line x1="1005.7" y1="1091.0" x2="1005.7" y2="1103.7" stroke="#000" stroke-width="1.95" />
<text x="1005.7" y="1120.9" font-size="16.3" fill="#000" text-anchor="middle" font-weight="normal" >21</text>
<line x1="1089.9" y1="1091.0" x2="1089.9" y2="1103.7" stroke="#000" stroke-width="1.95" />
<text x="1089.9" y="1120.9" font-size="16.3" fill="#000" text-anchor="middle" font-weight="normal" >32</text>
<line x1="1174.0" y1="1091.0" x2="1174.0" y2="1103.7" stroke="#000" stroke-width="1.95" />
<text x="1174.0" y="1120.9" font-size="16.3" fill="#000" text-anchor="middle" font-weight="normal" >40</text>
<text x="967.5" y="1153.7" font-size="24.5" fill="#000" text-anchor="middle" font-weight="normal" >Days</text>
<line x1="702.0" y1="740.0" x2="714.3" y2="740.0" stroke="#000" stroke-width="1.95" />
<line x1="702.0" y1="915.6" x2="714.3" y2="915.6" stroke="#000" stroke-width="1.95" />
<text x="699.9" y="746.0" font-size="16.3" fill="#000" text-anchor="end" font-weight="normal" >1000</text>
<text x="699.5" y="921.6" font-size="16.3" fill="#000" text-anchor="end" font-weight="normal" >500</text>
<text x="699.8" y="1097.1" font-size="16.3" fill="#000" text-anchor="end" font-weight="normal" >0</text>
<text transform="translate(647.8 884.6) rotate(-90)" font-size="24.4" text-anchor="middle" fill="#000">Tumor Size (mm<tspan font-size="19.5" dy="-10">3</tspan><tspan dy="10">)</tspan></text>
<clipPath id="clipD"><rect x="690" y="600" width="540" height="492"/></clipPath>
<g fill="#FF0000" clip-path="url(#clipD)"><line x1="726.0" y1="1069.0" x2="726.0" y2="1081.0" stroke="#FF0000" stroke-width="1.6"/><circle cx="723.0" cy="1069.0" r="3.8"/><circle cx="728.7" cy="1069.8" r="3.8"/><circle cx="728.7" cy="1071.4" r="3.8"/><circle cx="723.8" cy="1072.2" r="3.8"/><circle cx="725.1" cy="1073.8" r="3.8"/><circle cx="726.8" cy="1074.6" r="3.8"/><circle cx="729.0" cy="1076.2" r="3.8"/><circle cx="726.0" cy="1077.0" r="3.8"/><circle cx="723.6" cy="1078.6" r="3.8"/><circle cx="723.3" cy="1079.4" r="3.8"/><circle cx="726.9" cy="1081.0" r="3.8"/><circle cx="728.4" cy="1081.0" r="3.8"/></g>
<g fill="#0000FF" clip-path="url(#clipD)"><line x1="744.2" y1="1061.7" x2="744.2" y2="1081.5" stroke="#0000FF" stroke-width="1.6"/><circle cx="744.2" cy="1061.7" r="3.8"/><circle cx="742.0" cy="1066.0" r="3.8"/><circle cx="746.2" cy="1066.8" r="3.8"/><circle cx="746.2" cy="1068.2" r="3.8"/><circle cx="742.6" cy="1069.0" r="3.8"/><circle cx="743.5" cy="1070.4" r="3.8"/><circle cx="744.8" cy="1071.2" r="3.8"/><circle cx="746.4" cy="1072.6" r="3.8"/><circle cx="744.2" cy="1073.4" r="3.8"/><circle cx="742.4" cy="1074.9" r="3.8"/><circle cx="742.2" cy="1075.7" r="3.8"/><circle cx="744.9" cy="1077.1" r="3.8"/><circle cx="746.0" cy="1077.9" r="3.8"/><circle cx="744.2" cy="1079.3" r="3.8"/><circle cx="743.6" cy="1080.1" r="3.8"/><circle cx="742.0" cy="1081.5" r="3.8"/><circle cx="746.2" cy="1081.5" r="3.8"/></g>
<g fill="#000000" clip-path="url(#clipD)"><line x1="762.4" y1="1065.0" x2="762.4" y2="1082.0" stroke="#000000" stroke-width="1.6"/><circle cx="762.4" cy="1065.0" r="3.8"/><circle cx="760.0" cy="1070.0" r="3.8"/><circle cx="764.6" cy="1070.8" r="3.8"/><circle cx="764.6" cy="1072.4" r="3.8"/><circle cx="760.7" cy="1073.2" r="3.8"/><circle cx="761.7" cy="1074.8" r="3.8"/><circle cx="763.0" cy="1075.6" r="3.8"/><circle cx="764.8" cy="1077.2" r="3.8"/><circle cx="762.4" cy="1078.0" r="3.8"/><circle cx="760.5" cy="1079.6" r="3.8"/><circle cx="760.2" cy="1080.4" r="3.8"/><circle cx="763.1" cy="1082.0" r="3.8"/><circle cx="764.3" cy="1082.0" r="3.8"/></g>
<g fill="#00FF00" clip-path="url(#clipD)"><line x1="780.5" y1="1063.7" x2="780.5" y2="1084.5" stroke="#00FF00" stroke-width="1.6"/><circle cx="780.5" cy="1063.7" r="3.8"/><circle cx="778.1" cy="1072.0" r="3.8"/><circle cx="782.7" cy="1072.8" r="3.8"/><circle cx="782.7" cy="1074.5" r="3.8"/><circle cx="778.8" cy="1075.3" r="3.8"/><circle cx="779.8" cy="1077.0" r="3.8"/><circle cx="781.1" cy="1077.8" r="3.8"/><circle cx="782.9" cy="1079.5" r="3.8"/><circle cx="780.5" cy="1080.3" r="3.8"/><circle cx="778.6" cy="1082.0" r="3.8"/><circle cx="778.3" cy="1082.8" r="3.8"/><circle cx="781.2" cy="1084.5" r="3.8"/><circle cx="782.4" cy="1084.5" r="3.8"/></g>
<g fill="#FF0000" clip-path="url(#clipD)"><line x1="810.1" y1="1059.8" x2="810.1" y2="1076.0" stroke="#FF0000" stroke-width="1.6"/><circle cx="810.1" cy="1059.8" r="3.8"/><circle cx="807.7" cy="1064.0" r="3.8"/><circle cx="812.3" cy="1064.8" r="3.8"/><circle cx="812.3" cy="1066.4" r="3.8"/><circle cx="808.4" cy="1067.2" r="3.8"/><circle cx="809.4" cy="1068.8" r="3.8"/><circle cx="810.7" cy="1069.6" r="3.8"/><circle cx="812.5" cy="1071.2" r="3.8"/><circle cx="810.1" cy="1072.0" r="3.8"/><circle cx="808.2" cy="1073.6" r="3.8"/><circle cx="807.9" cy="1074.4" r="3.8"/><circle cx="810.8" cy="1076.0" r="3.8"/><circle cx="812.0" cy="1076.0" r="3.8"/></g>
<g fill="#0000FF" clip-path="url(#clipD)"><line x1="828.3" y1="1061.0" x2="828.3" y2="1078.7" stroke="#0000FF" stroke-width="1.6"/><circle cx="825.7" cy="1061.0" r="3.8"/><circle cx="830.6" cy="1061.8" r="3.8"/><circle cx="830.6" cy="1063.2" r="3.8"/><circle cx="826.4" cy="1064.0" r="3.8"/><circle cx="827.5" cy="1065.4" r="3.8"/><circle cx="829.0" cy="1066.2" r="3.8"/><circle cx="830.9" cy="1067.6" r="3.8"/><circle cx="828.3" cy="1068.4" r="3.8"/><circle cx="826.2" cy="1069.8" r="3.8"/><circle cx="826.0" cy="1070.6" r="3.8"/><circle cx="829.1" cy="1072.0" r="3.8"/><circle cx="830.4" cy="1072.0" r="3.8"/><circle cx="828.3" cy="1078.7" r="3.8"/></g>
<g fill="#000000" clip-path="url(#clipD)"><line x1="846.5" y1="1069.5" x2="846.5" y2="1082.0" stroke="#000000" stroke-width="1.6"/><circle cx="844.1" cy="1069.5" r="3.8"/><circle cx="848.7" cy="1070.3" r="3.8"/><circle cx="848.7" cy="1072.0" r="3.8"/><circle cx="844.8" cy="1072.8" r="3.8"/><circle cx="845.8" cy="1074.5" r="3.8"/><circle cx="847.1" cy="1075.3" r="3.8"/><circle cx="848.9" cy="1077.0" r="3.8"/><circle cx="846.5" cy="1077.8" r="3.8"/><circle cx="844.6" cy="1079.5" r="3.8"/><circle cx="844.3" cy="1080.3" r="3.8"/><circle cx="847.2" cy="1082.0" r="3.8"/><circle cx="848.4" cy="1082.0" r="3.8"/></g>
<g fill="#00FF00" clip-path="url(#clipD)"><line x1="864.6" y1="1057.5" x2="864.6" y2="1080.6" stroke="#00FF00" stroke-width="1.6"/><circle cx="864.6" cy="1057.5" r="3.8"/><circle cx="862.0" cy="1069.5" r="3.8"/><circle cx="866.9" cy="1070.3" r="3.8"/><circle cx="866.9" cy="1071.7" r="3.8"/><circle cx="862.7" cy="1072.5" r="3.8"/><circle cx="863.8" cy="1073.9" r="3.8"/><circle cx="865.3" cy="1074.7" r="3.8"/><circle cx="867.2" cy="1076.2" r="3.8"/><circle cx="864.6" cy="1077.0" r="3.8"/><circle cx="862.5" cy="1078.4" r="3.8"/><circle cx="862.3" cy="1079.2" r="3.8"/><circle cx="865.4" cy="1080.6" r="3.8"/><circle cx="866.7" cy="1080.6" r="3.8"/></g>
<g fill="#FF0000" clip-path="url(#clipD)"><line x1="894.2" y1="1038.9" x2="894.2" y2="1074.7" stroke="#FF0000" stroke-width="1.6"/><rect x="889.5" y="1050.0" width="9.4" height="13.7" fill="#fff" stroke="#FF0000" stroke-width="1.6"/><line x1="888.0" y1="1056.0" x2="900.4" y2="1056.0" stroke="#FF0000" stroke-width="1.6"/><circle cx="894.2" cy="1038.9" r="3.8"/><circle cx="891.8" cy="1044.0" r="3.8"/><circle cx="896.4" cy="1044.8" r="3.8"/><circle cx="896.4" cy="1046.2" r="3.8"/><circle cx="892.5" cy="1047.0" r="3.8"/><circle cx="893.5" cy="1048.4" r="3.8"/><circle cx="894.8" cy="1049.2" r="3.8"/><circle cx="896.6" cy="1050.7" r="3.8"/><circle cx="894.2" cy="1051.5" r="3.8"/><circle cx="892.3" cy="1052.9" r="3.8"/><circle cx="892.0" cy="1053.7" r="3.8"/><circle cx="894.9" cy="1055.1" r="3.8"/><circle cx="896.1" cy="1055.9" r="3.8"/><circle cx="894.2" cy="1057.3" r="3.8"/><circle cx="893.6" cy="1058.1" r="3.8"/><circle cx="891.8" cy="1059.6" r="3.8"/><circle cx="896.4" cy="1060.4" r="3.8"/><circle cx="896.4" cy="1061.8" r="3.8"/><circle cx="892.5" cy="1062.6" r="3.8"/><circle cx="893.5" cy="1064.0" r="3.8"/><circle cx="894.8" cy="1064.0" r="3.8"/><circle cx="893.2" cy="1074.7" r="3.8"/><circle cx="895.4" cy="1072.5" r="3.8"/></g>
<g fill="#0000FF" clip-path="url(#clipD)"><line x1="912.4" y1="1021.3" x2="912.4" y2="1074.7" stroke="#0000FF" stroke-width="1.6"/><rect x="907.7" y="1050.0" width="9.4" height="20.8" fill="#fff" stroke="#0000FF" stroke-width="1.6"/><line x1="906.2" y1="1060.0" x2="918.6" y2="1060.0" stroke="#0000FF" stroke-width="1.6"/><circle cx="912.4" cy="1021.3" r="3.8"/><circle cx="912.4" cy="1043.7" r="3.8"/><circle cx="910.0" cy="1050.0" r="3.8"/><circle cx="914.6" cy="1050.8" r="3.8"/><circle cx="914.6" cy="1052.3" r="3.8"/><circle cx="910.7" cy="1053.1" r="3.8"/><circle cx="911.7" cy="1054.6" r="3.8"/><circle cx="913.0" cy="1055.4" r="3.8"/><circle cx="914.8" cy="1056.9" r="3.8"/><circle cx="912.4" cy="1057.7" r="3.8"/><circle cx="910.5" cy="1059.2" r="3.8"/><circle cx="910.2" cy="1060.0" r="3.8"/><circle cx="913.1" cy="1061.6" r="3.8"/><circle cx="914.3" cy="1062.4" r="3.8"/><circle cx="912.4" cy="1063.9" r="3.8"/><circle cx="911.8" cy="1064.7" r="3.8"/><circle cx="910.0" cy="1066.2" r="3.8"/><circle cx="914.6" cy="1067.0" r="3.8"/><circle cx="914.6" cy="1068.5" r="3.8"/><circle cx="910.7" cy="1069.3" r="3.8"/><circle cx="911.7" cy="1070.8" r="3.8"/><circle cx="913.0" cy="1070.8" r="3.8"/><circle cx="914.9" cy="1074.7" r="3.8"/></g>
<g fill="#000000" clip-path="url(#clipD)"><line x1="930.6" y1="1044.8" x2="930.6" y2="1080.0" stroke="#000000" stroke-width="1.6"/><rect x="925.9" y="1056.0" width="9.4" height="20.0" fill="#fff" stroke="#000000" stroke-width="1.6"/><line x1="924.4" y1="1066.0" x2="936.8" y2="1066.0" stroke="#000000" stroke-width="1.6"/><circle cx="930.6" cy="1044.8" r="3.8"/><circle cx="927.6" cy="1053.9" r="3.8"/><circle cx="933.3" cy="1054.7" r="3.8"/><circle cx="933.3" cy="1056.3" r="3.8"/><circle cx="928.4" cy="1057.1" r="3.8"/><circle cx="929.7" cy="1058.6" r="3.8"/><circle cx="931.4" cy="1059.4" r="3.8"/><circle cx="933.6" cy="1061.0" r="3.8"/><circle cx="930.6" cy="1061.8" r="3.8"/><circle cx="928.2" cy="1063.4" r="3.8"/><circle cx="927.9" cy="1064.2" r="3.8"/><circle cx="931.5" cy="1065.8" r="3.8"/><circle cx="933.0" cy="1066.6" r="3.8"/><circle cx="930.6" cy="1068.1" r="3.8"/><circle cx="929.8" cy="1068.9" r="3.8"/><circle cx="927.6" cy="1070.5" r="3.8"/><circle cx="933.3" cy="1071.3" r="3.8"/><circle cx="933.3" cy="1072.9" r="3.8"/><circle cx="928.4" cy="1073.7" r="3.8"/><circle cx="929.7" cy="1075.3" r="3.8"/><circle cx="931.4" cy="1076.1" r="3.8"/><circle cx="933.6" cy="1077.6" r="3.8"/><circle cx="930.6" cy="1078.4" r="3.8"/><circle cx="928.2" cy="1080.0" r="3.8"/><circle cx="927.9" cy="1080.0" r="3.8"/></g>
<g fill="#00FF00" clip-path="url(#clipD)"><line x1="948.7" y1="1056.5" x2="948.7" y2="1079.3" stroke="#00FF00" stroke-width="1.6"/><rect x="944.0" y="1061.0" width="9.4" height="15.0" fill="#fff" stroke="#00FF00" stroke-width="1.6"/><line x1="942.5" y1="1068.0" x2="954.9" y2="1068.0" stroke="#00FF00" stroke-width="1.6"/><circle cx="946.3" cy="1056.5" r="3.8"/><circle cx="950.9" cy="1057.3" r="3.8"/><circle cx="950.9" cy="1058.8" r="3.8"/><circle cx="947.0" cy="1059.6" r="3.8"/><circle cx="948.0" cy="1061.1" r="3.8"/><circle cx="949.3" cy="1061.9" r="3.8"/><circle cx="951.1" cy="1063.3" r="3.8"/><circle cx="948.7" cy="1064.1" r="3.8"/><circle cx="946.8" cy="1065.6" r="3.8"/><circle cx="946.5" cy="1066.4" r="3.8"/><circle cx="949.4" cy="1067.9" r="3.8"/><circle cx="950.6" cy="1068.7" r="3.8"/><circle cx="948.7" cy="1070.2" r="3.8"/><circle cx="948.1" cy="1071.0" r="3.8"/><circle cx="946.3" cy="1072.5" r="3.8"/><circle cx="950.9" cy="1073.3" r="3.8"/><circle cx="950.9" cy="1074.7" r="3.8"/><circle cx="947.0" cy="1075.5" r="3.8"/><circle cx="948.0" cy="1077.0" r="3.8"/><circle cx="949.3" cy="1077.8" r="3.8"/><circle cx="951.1" cy="1079.3" r="3.8"/><circle cx="948.7" cy="1079.3" r="3.8"/></g>
<g fill="#FF0000" clip-path="url(#clipD)"><line x1="978.5" y1="916.6" x2="978.5" y2="1059.2" stroke="#FF0000" stroke-width="1.6"/><rect x="973.8" y="969.4" width="9.4" height="53.3" fill="#fff" stroke="#FF0000" stroke-width="1.6"/><line x1="972.3" y1="983.0" x2="984.7" y2="983.0" stroke="#FF0000" stroke-width="1.6"/><circle cx="978.5" cy="916.6" r="3.8"/><circle cx="982.3" cy="961.3" r="3.8"/><circle cx="978.5" cy="967.0" r="3.8"/><circle cx="978.5" cy="974.6" r="3.8"/><circle cx="976.5" cy="983.0" r="3.8"/><circle cx="981.0" cy="984.0" r="3.8"/><circle cx="978.5" cy="985.5" r="3.8"/><circle cx="978.5" cy="995.5" r="3.8"/><circle cx="978.5" cy="1015.5" r="3.8"/><circle cx="978.5" cy="1026.0" r="3.8"/><circle cx="978.5" cy="1034.5" r="3.8"/><circle cx="978.5" cy="1059.2" r="3.8"/></g>
<g fill="#0000FF" clip-path="url(#clipD)"><line x1="996.7" y1="929.0" x2="996.7" y2="1053.0" stroke="#0000FF" stroke-width="1.6"/><rect x="992.0" y="962.8" width="9.4" height="73.2" fill="#fff" stroke="#0000FF" stroke-width="1.6"/><line x1="990.5" y1="1008.8" x2="1002.9" y2="1008.8" stroke="#0000FF" stroke-width="1.6"/><circle cx="996.7" cy="929.0" r="3.8"/><circle cx="996.7" cy="938.8" r="3.8"/><circle cx="996.7" cy="958.4" r="3.8"/><circle cx="996.7" cy="967.0" r="3.8"/><circle cx="996.7" cy="984.5" r="3.8"/><circle cx="994.2" cy="1007.9" r="3.8"/><circle cx="999.2" cy="1009.5" r="3.8"/><circle cx="996.7" cy="1022.0" r="3.8"/><circle cx="996.7" cy="1028.0" r="3.8"/><circle cx="993.7" cy="1038.3" r="3.8"/><circle cx="999.7" cy="1038.3" r="3.8"/><circle cx="996.7" cy="1042.0" r="3.8"/><circle cx="996.7" cy="1053.0" r="3.8"/></g>
<g fill="#000000" clip-path="url(#clipD)"><line x1="1014.9" y1="989.4" x2="1014.9" y2="1065.0" stroke="#000000" stroke-width="1.6"/><rect x="1010.2" y="1008.8" width="9.4" height="42.8" fill="#fff" stroke="#000000" stroke-width="1.6"/><line x1="1008.7" y1="1040.0" x2="1021.1" y2="1040.0" stroke="#000000" stroke-width="1.6"/><circle cx="1014.9" cy="989.4" r="3.8"/><circle cx="1016.4" cy="1001.6" r="3.8"/><circle cx="1012.9" cy="1003.0" r="3.8"/><circle cx="1012.4" cy="1011.7" r="3.8"/><circle cx="1015.9" cy="1014.5" r="3.8"/><circle cx="1014.9" cy="1030.7" r="3.8"/><circle cx="1012.1" cy="1039.2" r="3.8"/><circle cx="1017.7" cy="1044.0" r="3.8"/><circle cx="1011.9" cy="1054.4" r="3.8"/><circle cx="1018.1" cy="1055.5" r="3.8"/><circle cx="1016.4" cy="1061.0" r="3.8"/><circle cx="1013.4" cy="1065.0" r="3.8"/></g>
<g fill="#00FF00" clip-path="url(#clipD)"><line x1="1033.0" y1="978.4" x2="1033.0" y2="1082.5" stroke="#00FF00" stroke-width="1.6"/><rect x="1028.3" y="1012.6" width="9.4" height="52.9" fill="#fff" stroke="#00FF00" stroke-width="1.6"/><line x1="1026.8" y1="1020.0" x2="1039.2" y2="1020.0" stroke="#00FF00" stroke-width="1.6"/><circle cx="1033.0" cy="978.4" r="3.8"/><circle cx="1033.0" cy="1001.2" r="3.8"/><circle cx="1033.0" cy="1007.9" r="3.8"/><circle cx="1029.5" cy="1013.6" r="3.8"/><circle cx="1033.0" cy="1015.0" r="3.8"/><circle cx="1036.5" cy="1014.2" r="3.8"/><circle cx="1030.0" cy="1020.0" r="3.8"/><circle cx="1036.0" cy="1020.5" r="3.8"/><circle cx="1033.0" cy="1038.7" r="3.8"/><circle cx="1033.0" cy="1050.3" r="3.8"/><circle cx="1034.8" cy="1065.9" r="3.8"/><circle cx="1031.5" cy="1068.5" r="3.8"/><circle cx="1035.0" cy="1080.5" r="3.8"/><circle cx="1031.4" cy="1082.5" r="3.8"/></g>
<g fill="#FF0000" clip-path="url(#clipD)"><line x1="1062.9" y1="879.5" x2="1062.9" y2="984.5" stroke="#FF0000" stroke-width="1.6"/><rect x="1058.2" y="912.4" width="9.4" height="39.6" fill="#fff" stroke="#FF0000" stroke-width="1.6"/><line x1="1056.7" y1="938.4" x2="1069.1" y2="938.4" stroke="#FF0000" stroke-width="1.6"/><circle cx="1062.9" cy="879.5" r="3.8"/><circle cx="1064.4" cy="908.0" r="3.8"/><circle cx="1061.4" cy="911.8" r="3.8"/><circle cx="1060.9" cy="925.0" r="3.8"/><circle cx="1064.4" cy="927.0" r="3.8"/><circle cx="1059.9" cy="938.4" r="3.8"/><circle cx="1066.4" cy="938.4" r="3.8"/><circle cx="1062.9" cy="944.0" r="3.8"/><circle cx="1062.9" cy="953.7" r="3.8"/><circle cx="1062.9" cy="968.9" r="3.8"/><circle cx="1062.9" cy="984.5" r="3.8"/></g>
<g fill="#0000FF" clip-path="url(#clipD)"><line x1="1081.1" y1="797.8" x2="1081.1" y2="1025.4" stroke="#0000FF" stroke-width="1.6"/><rect x="1076.4" y="871.9" width="9.4" height="86.1" fill="#fff" stroke="#0000FF" stroke-width="1.6"/><line x1="1074.9" y1="905.0" x2="1087.3" y2="905.0" stroke="#0000FF" stroke-width="1.6"/><circle cx="1081.1" cy="797.8" r="3.8"/><circle cx="1081.1" cy="829.2" r="3.8"/><circle cx="1084.3" cy="869.1" r="3.8"/><circle cx="1077.9" cy="872.0" r="3.8"/><circle cx="1081.1" cy="883.3" r="3.8"/><circle cx="1081.1" cy="890.0" r="3.8"/><circle cx="1077.9" cy="905.0" r="3.8"/><circle cx="1084.3" cy="910.5" r="3.8"/><circle cx="1077.9" cy="919.4" r="3.8"/><circle cx="1084.3" cy="920.6" r="3.8"/><circle cx="1081.1" cy="996.4" r="3.8"/><circle cx="1081.1" cy="1013.0" r="3.8"/><circle cx="1081.1" cy="1025.4" r="3.8"/></g>
<g fill="#000000" clip-path="url(#clipD)"><line x1="1099.3" y1="909.5" x2="1099.3" y2="1028.8" stroke="#000000" stroke-width="1.6"/><rect x="1094.6" y="952.7" width="9.4" height="64.7" fill="#fff" stroke="#000000" stroke-width="1.6"/><line x1="1093.1" y1="990.7" x2="1105.5" y2="990.7" stroke="#000000" stroke-width="1.6"/><circle cx="1102.5" cy="909.5" r="3.8"/><circle cx="1095.8" cy="911.0" r="3.8"/><circle cx="1102.5" cy="949.5" r="3.8"/><circle cx="1096.1" cy="953.7" r="3.8"/><circle cx="1099.3" cy="960.7" r="3.8"/><circle cx="1095.8" cy="990.7" r="3.8"/><circle cx="1102.8" cy="990.7" r="3.8"/><circle cx="1099.3" cy="1005.6" r="3.8"/><circle cx="1099.3" cy="1013.0" r="3.8"/><circle cx="1099.3" cy="1020.0" r="3.8"/><circle cx="1095.8" cy="1028.8" r="3.8"/><circle cx="1102.8" cy="1028.8" r="3.8"/></g>
<g fill="#00FF00" clip-path="url(#clipD)"><line x1="1117.4" y1="902.9" x2="1117.4" y2="1075.0" stroke="#00FF00" stroke-width="1.6"/><rect x="1112.7" y="945.5" width="9.4" height="82.7" fill="#fff" stroke="#00FF00" stroke-width="1.6"/><line x1="1111.2" y1="982.6" x2="1123.6" y2="982.6" stroke="#00FF00" stroke-width="1.6"/><circle cx="1117.4" cy="902.9" r="3.8"/><circle cx="1117.4" cy="933.0" r="3.8"/><circle cx="1117.4" cy="941.3" r="3.8"/><circle cx="1117.4" cy="955.6" r="3.8"/><circle cx="1114.8" cy="979.3" r="3.8"/><circle cx="1120.9" cy="983.0" r="3.8"/><circle cx="1117.4" cy="991.7" r="3.8"/><circle cx="1117.4" cy="1007.9" r="3.8"/><circle cx="1117.4" cy="1035.4" r="3.8"/><circle cx="1117.4" cy="1068.7" r="3.8"/><circle cx="1117.4" cy="1075.0" r="3.8"/></g>
<g fill="#FF0000" clip-path="url(#clipD)"><line x1="1147.2" y1="743.6" x2="1147.2" y2="953.7" stroke="#FF0000" stroke-width="1.6"/><rect x="1142.5" y="801.6" width="9.4" height="129.8" fill="#fff" stroke="#FF0000" stroke-width="1.6"/><line x1="1141.0" y1="854.3" x2="1153.4" y2="854.3" stroke="#FF0000" stroke-width="1.6"/><circle cx="1147.2" cy="743.6" r="3.8"/><circle cx="1147.2" cy="765.1" r="3.8"/><circle cx="1147.2" cy="797.8" r="3.8"/><circle cx="1150.6" cy="811.1" r="3.8"/><circle cx="1144.0" cy="813.6" r="3.8"/><circle cx="1147.2" cy="847.7" r="3.8"/><circle cx="1147.2" cy="861.2" r="3.8"/><circle cx="1147.2" cy="867.2" r="3.8"/><circle cx="1147.2" cy="923.0" r="3.8"/><circle cx="1144.0" cy="935.6" r="3.8"/><circle cx="1150.6" cy="936.4" r="3.8"/><circle cx="1147.2" cy="953.7" r="3.8"/></g>
<g fill="#0000FF" clip-path="url(#clipD)"><line x1="1165.4" y1="711.9" x2="1165.4" y2="953.7" stroke="#0000FF" stroke-width="1.6"/><rect x="1160.7" y="804.9" width="9.4" height="80.3" fill="#fff" stroke="#0000FF" stroke-width="1.6"/><line x1="1159.2" y1="849.5" x2="1171.6" y2="849.5" stroke="#0000FF" stroke-width="1.6"/><circle cx="1165.4" cy="711.9" r="3.8"/><circle cx="1165.4" cy="775.6" r="3.8"/><circle cx="1165.4" cy="796.9" r="3.8"/><circle cx="1165.4" cy="828.3" r="3.8"/><circle cx="1165.4" cy="841.6" r="3.8"/><circle cx="1162.2" cy="849.2" r="3.8"/><circle cx="1168.8" cy="851.0" r="3.8"/><circle cx="1165.4" cy="867.2" r="3.8"/><circle cx="1165.4" cy="880.8" r="3.8"/><circle cx="1165.4" cy="888.0" r="3.8"/><circle cx="1165.4" cy="940.0" r="3.8"/><circle cx="1165.4" cy="953.7" r="3.8"/></g>
<g fill="#000000" clip-path="url(#clipD)"><line x1="1183.6" y1="820.6" x2="1183.6" y2="1014.5" stroke="#000000" stroke-width="1.6"/><rect x="1178.9" y="887.7" width="9.4" height="101.5" fill="#fff" stroke="#000000" stroke-width="1.6"/><line x1="1177.4" y1="948.9" x2="1189.8" y2="948.9" stroke="#000000" stroke-width="1.6"/><circle cx="1183.6" cy="820.6" r="3.8"/><circle cx="1183.6" cy="835.9" r="3.8"/><circle cx="1183.6" cy="879.9" r="3.8"/><circle cx="1183.6" cy="908.0" r="3.8"/><circle cx="1180.4" cy="939.4" r="3.8"/><circle cx="1186.8" cy="939.4" r="3.8"/><circle cx="1180.4" cy="963.0" r="3.8"/><circle cx="1186.8" cy="958.4" r="3.8"/><circle cx="1183.6" cy="984.5" r="3.8"/><circle cx="1183.6" cy="991.7" r="3.8"/><circle cx="1180.2" cy="1014.5" r="3.8"/><circle cx="1187.0" cy="1012.0" r="3.8"/></g>
<g fill="#00FF00" clip-path="url(#clipD)"><line x1="1201.7" y1="809.6" x2="1201.7" y2="1055.0" stroke="#00FF00" stroke-width="1.6"/><rect x="1197.0" y="866.2" width="9.4" height="159.2" fill="#fff" stroke="#00FF00" stroke-width="1.6"/><line x1="1195.5" y1="908.6" x2="1207.9" y2="908.6" stroke="#00FF00" stroke-width="1.6"/><circle cx="1201.7" cy="809.6" r="3.8"/><circle cx="1201.7" cy="829.8" r="3.8"/><circle cx="1205.1" cy="863.4" r="3.8"/><circle cx="1198.3" cy="866.5" r="3.8"/><circle cx="1201.7" cy="884.2" r="3.8"/><circle cx="1201.7" cy="892.2" r="3.8"/><circle cx="1201.7" cy="925.0" r="3.8"/><circle cx="1201.7" cy="934.0" r="3.8"/><circle cx="1201.7" cy="968.9" r="3.8"/><circle cx="1201.7" cy="1045.0" r="3.8"/><circle cx="1198.3" cy="1055.0" r="3.8"/><circle cx="1205.1" cy="1055.0" r="3.8"/></g>
<text x="1160.7" y="634.3" font-size="23.50" fill="#000" text-anchor="middle" font-weight="normal" letter-spacing="0.00">*</text>
<line x1="1144.6" y1="641.7" x2="1175.4" y2="641.7" stroke="#000" stroke-width="1.9" />
<line x1="1144.6" y1="635.1" x2="1144.6" y2="648.3" stroke="#000" stroke-width="1.9" />
<line x1="1175.4" y1="635.1" x2="1175.4" y2="648.3" stroke="#000" stroke-width="1.9" />
<text x="1142.7" y="673.0" font-size="19.0" fill="#000" text-anchor="start" font-weight="normal" >ns</text>
<text x="1176.0" y="673.0" font-size="19.0" fill="#000" text-anchor="start" font-weight="normal" >ns</text>
<line x1="1144.3" y1="688.2" x2="1166.4" y2="688.2" stroke="#000" stroke-width="1.9" />
<line x1="1144.3" y1="681.5" x2="1144.3" y2="694.9" stroke="#000" stroke-width="1.9" />
<line x1="1166.4" y1="681.5" x2="1166.4" y2="694.9" stroke="#000" stroke-width="1.9" />
<line x1="1170.5" y1="688.2" x2="1201.4" y2="688.2" stroke="#000" stroke-width="1.9" />
<line x1="1170.5" y1="681.5" x2="1170.5" y2="694.9" stroke="#000" stroke-width="1.9" />
<line x1="1201.4" y1="681.5" x2="1201.4" y2="694.9" stroke="#000" stroke-width="1.9" />
<text x="1182.4" y="754.8" font-size="19.0" fill="#000" text-anchor="start" font-weight="normal" >ns</text>
<line x1="1180.7" y1="768.9" x2="1203.2" y2="768.9" stroke="#000" stroke-width="1.9" />
<line x1="1180.7" y1="762.3" x2="1180.7" y2="775.5" stroke="#000" stroke-width="1.9" />
<line x1="1203.2" y1="762.3" x2="1203.2" y2="775.5" stroke="#000" stroke-width="1.9" />
<rect x="708.5" y="1206.8" width="30.6" height="14.6" fill="none" stroke="#FF0000" stroke-width="1.5" />
<text x="756.88" y="1221.8" font-size="24.6" fill="#000" font-weight="normal" textLength="269.40" lengthAdjust="spacingAndGlyphs" >Human IgG sgGAL4+clo</text>
<rect x="708.5" y="1252.8" width="30.6" height="14.6" fill="none" stroke="#0000FF" stroke-width="1.5" />
<text x="756.89" y="1267.8" font-size="24.6" fill="#000" font-weight="normal" textLength="284.29" lengthAdjust="spacingAndGlyphs" >Human IgG sgATG9A+clo</text>
<rect x="708.5" y="1298.8" width="30.6" height="14.6" fill="none" stroke="#000000" stroke-width="1.5" />
<text x="758.10" y="1313.8" font-size="24.6" fill="#000" font-weight="normal" textLength="283.08" lengthAdjust="spacingAndGlyphs" >Trastuzumab sgGAL4+clo</text>
<rect x="708.5" y="1344.9" width="30.6" height="14.6" fill="none" stroke="#00FF00" stroke-width="1.5" />
<text x="758.10" y="1359.9" font-size="24.6" fill="#000" font-weight="normal" textLength="297.97" lengthAdjust="spacingAndGlyphs" >Trastuzumab sgATG9A+clo</text>
<g fill="#000"><circle cx="1364.8" cy="1095.5" r="1.75"/><circle cx="1373.6" cy="1095.5" r="1.75"/><circle cx="1382.4" cy="1095.5" r="1.75"/><circle cx="1391.2" cy="1095.5" r="1.75"/><circle cx="1400.0" cy="1095.5" r="1.75"/><circle cx="1408.8" cy="1095.5" r="1.75"/><circle cx="1417.6" cy="1095.5" r="1.75"/><circle cx="1426.4" cy="1095.5" r="1.75"/><circle cx="1435.2" cy="1095.5" r="1.75"/><circle cx="1444.0" cy="1095.5" r="1.75"/><circle cx="1452.8" cy="1095.5" r="1.75"/><circle cx="1461.6" cy="1095.5" r="1.75"/><circle cx="1470.4" cy="1095.5" r="1.75"/><circle cx="1479.2" cy="1095.5" r="1.75"/><circle cx="1488.0" cy="1095.5" r="1.75"/><circle cx="1496.8" cy="1095.5" r="1.75"/><circle cx="1505.6" cy="1095.5" r="1.75"/><circle cx="1514.4" cy="1095.5" r="1.75"/><circle cx="1523.2" cy="1095.5" r="1.75"/><circle cx="1532.0" cy="1095.5" r="1.75"/><circle cx="1540.8" cy="1095.5" r="1.75"/><circle cx="1549.6" cy="1095.5" r="1.75"/><circle cx="1558.4" cy="1095.5" r="1.75"/><circle cx="1567.2" cy="1095.5" r="1.75"/><circle cx="1576.0" cy="1095.5" r="1.75"/><circle cx="1584.8" cy="1095.5" r="1.75"/><circle cx="1593.6" cy="1095.5" r="1.75"/><circle cx="1602.4" cy="1095.5" r="1.75"/><circle cx="1611.2" cy="1095.5" r="1.75"/><circle cx="1620.0" cy="1095.5" r="1.75"/><circle cx="1628.8" cy="1095.5" r="1.75"/><circle cx="1637.6" cy="1095.5" r="1.75"/><circle cx="1646.4" cy="1095.5" r="1.75"/><circle cx="1655.2" cy="1095.5" r="1.75"/><circle cx="1664.0" cy="1095.5" r="1.75"/><circle cx="1672.8" cy="1095.5" r="1.75"/><circle cx="1681.6" cy="1095.5" r="1.75"/><circle cx="1690.4" cy="1095.5" r="1.75"/><circle cx="1699.2" cy="1095.5" r="1.75"/><circle cx="1708.0" cy="1095.5" r="1.75"/><circle cx="1716.8" cy="1095.5" r="1.75"/><circle cx="1725.6" cy="1095.5" r="1.75"/><circle cx="1734.4" cy="1095.5" r="1.75"/><circle cx="1743.2" cy="1095.5" r="1.75"/></g>
<line x1="1361.3" y1="1095.5" x2="1749.7" y2="1095.5" stroke="#000" stroke-width="1.8" />
<line x1="1373.6" y1="669.7" x2="1373.6" y2="1096.5" stroke="#000" stroke-width="1.9" />
<line x1="1417.6" y1="1095.5" x2="1417.6" y2="1107.8" stroke="#000" stroke-width="1.95" />
<text x="1417.6" y="1124.9" font-size="16.2" fill="#000" text-anchor="middle" font-weight="normal" >0</text>
<line x1="1513.1" y1="1095.5" x2="1513.1" y2="1107.8" stroke="#000" stroke-width="1.95" />
<text x="1513.1" y="1124.9" font-size="16.2" fill="#000" text-anchor="middle" font-weight="normal" >14</text>
<line x1="1608.5" y1="1095.5" x2="1608.5" y2="1107.8" stroke="#000" stroke-width="1.95" />
<text x="1608.5" y="1124.9" font-size="16.2" fill="#000" text-anchor="middle" font-weight="normal" >21</text>
<line x1="1704.0" y1="1095.5" x2="1704.0" y2="1107.8" stroke="#000" stroke-width="1.95" />
<text x="1704.0" y="1124.9" font-size="16.2" fill="#000" text-anchor="middle" font-weight="normal" >28</text>
<text x="1564.4" y="1157.4" font-size="24.5" fill="#000" text-anchor="middle" font-weight="normal" >Days</text>
<line x1="1361.3" y1="768.9" x2="1373.6" y2="768.9" stroke="#000" stroke-width="1.95" />
<line x1="1361.3" y1="931.9" x2="1373.6" y2="931.9" stroke="#000" stroke-width="1.95" />
<text x="1341.2" y="776.1" font-size="20.5" fill="#000" text-anchor="end" font-weight="normal" >1×10</text>
<text x="1344.2" y="770.1" font-size="13.7" fill="#000" text-anchor="start" font-weight="normal" >10</text>
<text x="1346.5" y="938.9" font-size="20.5" fill="#000" text-anchor="end" font-weight="normal" >5×10</text>
<text x="1351.5" y="932.9" font-size="13.7" fill="#000" text-anchor="start" font-weight="normal" >9</text>
<text x="1357.0" y="1102.0" font-size="19.8" fill="#000" text-anchor="end" font-weight="normal" >0</text>
<text transform="translate(1294.9 880.2) rotate(-90)" font-size="24.7" text-anchor="middle" fill="#000">Total Flux</text>
<clipPath id="clipF"><rect x="1350" y="580" width="420" height="516.4"/></clipPath>
<g fill="#FF0000" clip-path="url(#clipF)"><line x1="1386.8" y1="1072.8" x2="1386.8" y2="1090.5" stroke="#FF0000" stroke-width="1.7"/><rect x="1381.4" y="1077.4" width="10.8" height="8.7" fill="#fff" stroke="#FF0000" stroke-width="1.7"/><line x1="1379.9" y1="1081.5" x2="1393.7" y2="1081.5" stroke="#FF0000" stroke-width="1.7"/><circle cx="1389.6" cy="1072.8" r="4.0"/><circle cx="1384.3" cy="1075.0" r="4.0"/><circle cx="1390.3" cy="1078.5" r="4.0"/><circle cx="1383.3" cy="1082.0" r="4.0"/><circle cx="1386.8" cy="1080.5" r="4.0"/><circle cx="1390.6" cy="1085.5" r="4.0"/><circle cx="1384.8" cy="1087.0" r="4.0"/><circle cx="1388.8" cy="1088.0" r="4.0"/><circle cx="1383.5" cy="1090.5" r="4.0"/></g>
<g fill="#0000FF" clip-path="url(#clipF)"><line x1="1407.6" y1="1075.5" x2="1407.6" y2="1090.5" stroke="#0000FF" stroke-width="1.7"/><rect x="1402.2" y="1079.3" width="10.8" height="8.7" fill="#fff" stroke="#0000FF" stroke-width="1.7"/><line x1="1400.7" y1="1086.0" x2="1414.5" y2="1086.0" stroke="#0000FF" stroke-width="1.7"/><circle cx="1407.6" cy="1075.5" r="4.0"/><circle cx="1405.6" cy="1078.0" r="4.0"/><circle cx="1410.1" cy="1080.0" r="4.0"/><circle cx="1407.6" cy="1084.0" r="4.0"/><circle cx="1404.1" cy="1090.0" r="4.0"/><circle cx="1411.1" cy="1090.5" r="4.0"/><circle cx="1407.6" cy="1089.0" r="4.0"/></g>
<g fill="#000000" clip-path="url(#clipF)"><line x1="1428.0" y1="1054.6" x2="1428.0" y2="1093.5" stroke="#000000" stroke-width="1.7"/><rect x="1422.6" y="1076.5" width="10.8" height="14.5" fill="#fff" stroke="#000000" stroke-width="1.7"/><line x1="1421.1" y1="1083.0" x2="1434.9" y2="1083.0" stroke="#000000" stroke-width="1.7"/><circle cx="1428.0" cy="1054.6" r="4.0"/><circle cx="1428.0" cy="1070.6" r="4.0"/><circle cx="1424.2" cy="1075.5" r="4.0"/><circle cx="1431.8" cy="1076.0" r="4.0"/><circle cx="1428.0" cy="1079.0" r="4.0"/><circle cx="1424.5" cy="1083.0" r="4.0"/><circle cx="1431.5" cy="1083.5" r="4.0"/><circle cx="1428.0" cy="1087.0" r="4.0"/><circle cx="1424.5" cy="1091.0" r="4.0"/><circle cx="1431.5" cy="1091.5" r="4.0"/><circle cx="1428.0" cy="1093.5" r="4.0"/></g>
<g fill="#00FF00" clip-path="url(#clipF)"><line x1="1448.5" y1="1075.0" x2="1448.5" y2="1094.0" stroke="#00FF00" stroke-width="1.7"/><rect x="1443.1" y="1083.0" width="10.8" height="11.6" fill="#fff" stroke="#00FF00" stroke-width="1.7"/><line x1="1441.6" y1="1089.0" x2="1455.4" y2="1089.0" stroke="#00FF00" stroke-width="1.7"/><circle cx="1448.5" cy="1075.0" r="4.0"/><circle cx="1447.0" cy="1079.5" r="4.0"/><circle cx="1450.5" cy="1083.0" r="4.0"/><circle cx="1445.0" cy="1086.0" r="4.0"/><circle cx="1452.0" cy="1086.5" r="4.0"/><circle cx="1448.5" cy="1089.0" r="4.0"/><circle cx="1444.7" cy="1091.5" r="4.0"/><circle cx="1452.3" cy="1092.0" r="4.0"/><circle cx="1448.5" cy="1094.0" r="4.0"/></g>
<g fill="#FF0000" clip-path="url(#clipF)"><line x1="1482.4" y1="1044.2" x2="1482.4" y2="1087.4" stroke="#FF0000" stroke-width="1.7"/><rect x="1477.0" y="1053.2" width="10.8" height="30.4" fill="#fff" stroke="#FF0000" stroke-width="1.7"/><line x1="1475.5" y1="1068.0" x2="1489.3" y2="1068.0" stroke="#FF0000" stroke-width="1.7"/><circle cx="1479.9" cy="1044.2" r="4.0"/><circle cx="1484.9" cy="1045.2" r="4.0"/><circle cx="1482.4" cy="1055.6" r="4.0"/><circle cx="1479.2" cy="1066.2" r="4.0"/><circle cx="1486.2" cy="1070.6" r="4.0"/><circle cx="1486.2" cy="1080.0" r="4.0"/><circle cx="1482.4" cy="1084.0" r="4.0"/><circle cx="1478.6" cy="1087.4" r="4.0"/><circle cx="1486.6" cy="1087.4" r="4.0"/></g>
<g fill="#0000FF" clip-path="url(#clipF)"><line x1="1503.2" y1="1066.8" x2="1503.2" y2="1088.0" stroke="#0000FF" stroke-width="1.7"/><rect x="1497.8" y="1073.0" width="10.8" height="5.6" fill="#fff" stroke="#0000FF" stroke-width="1.7"/><line x1="1496.3" y1="1075.5" x2="1510.1" y2="1075.5" stroke="#0000FF" stroke-width="1.7"/><circle cx="1503.2" cy="1066.8" r="4.0"/><circle cx="1498.2" cy="1071.8" r="4.0"/><circle cx="1508.2" cy="1071.8" r="4.0"/><circle cx="1501.2" cy="1074.0" r="4.0"/><circle cx="1505.7" cy="1075.5" r="4.0"/><circle cx="1503.2" cy="1080.5" r="4.0"/><circle cx="1503.2" cy="1088.0" r="4.0"/></g>
<g fill="#000000" clip-path="url(#clipF)"><line x1="1523.6" y1="1025.6" x2="1523.6" y2="1091.5" stroke="#000000" stroke-width="1.7"/><rect x="1518.2" y="1074.3" width="10.8" height="14.7" fill="#fff" stroke="#000000" stroke-width="1.7"/><line x1="1516.7" y1="1083.0" x2="1530.5" y2="1083.0" stroke="#000000" stroke-width="1.7"/><circle cx="1523.6" cy="1025.6" r="4.0"/><circle cx="1523.6" cy="1035.5" r="4.0"/><circle cx="1523.6" cy="1067.1" r="4.0"/><circle cx="1520.1" cy="1075.0" r="4.0"/><circle cx="1527.1" cy="1075.5" r="4.0"/><circle cx="1523.6" cy="1078.0" r="4.0"/><circle cx="1520.1" cy="1082.0" r="4.0"/><circle cx="1527.1" cy="1082.5" r="4.0"/><circle cx="1523.6" cy="1085.0" r="4.0"/><circle cx="1519.8" cy="1088.5" r="4.0"/><circle cx="1527.4" cy="1089.0" r="4.0"/><circle cx="1523.6" cy="1091.5" r="4.0"/></g>
<g fill="#00FF00" clip-path="url(#clipF)"><line x1="1544.1" y1="1068.3" x2="1544.1" y2="1094.0" stroke="#00FF00" stroke-width="1.7"/><rect x="1538.7" y="1083.0" width="10.8" height="11.8" fill="#fff" stroke="#00FF00" stroke-width="1.7"/><line x1="1537.2" y1="1090.0" x2="1551.0" y2="1090.0" stroke="#00FF00" stroke-width="1.7"/><circle cx="1544.1" cy="1068.3" r="4.0"/><circle cx="1544.1" cy="1076.8" r="4.0"/><circle cx="1544.1" cy="1083.0" r="4.0"/><circle cx="1541.1" cy="1088.0" r="4.0"/><circle cx="1547.1" cy="1089.0" r="4.0"/><circle cx="1540.1" cy="1093.0" r="4.0"/><circle cx="1548.1" cy="1093.0" r="4.0"/><circle cx="1544.1" cy="1094.0" r="4.0"/></g>
<g fill="#FF0000" clip-path="url(#clipF)"><line x1="1577.7" y1="953.4" x2="1577.7" y2="1061.2" stroke="#FF0000" stroke-width="1.7"/><rect x="1572.3" y="993.7" width="10.8" height="59.2" fill="#fff" stroke="#FF0000" stroke-width="1.7"/><line x1="1570.8" y1="1032.0" x2="1584.6" y2="1032.0" stroke="#FF0000" stroke-width="1.7"/><circle cx="1577.7" cy="953.4" r="4.0"/><circle cx="1577.7" cy="980.8" r="4.0"/><circle cx="1581.7" cy="997.2" r="4.0"/><circle cx="1573.9" cy="1001.6" r="4.0"/><circle cx="1581.7" cy="1030.5" r="4.0"/><circle cx="1573.9" cy="1033.3" r="4.0"/><circle cx="1577.7" cy="1042.0" r="4.0"/><circle cx="1577.7" cy="1051.3" r="4.0"/><circle cx="1581.7" cy="1059.4" r="4.0"/><circle cx="1573.9" cy="1061.2" r="4.0"/></g>
<g fill="#0000FF" clip-path="url(#clipF)"><line x1="1598.5" y1="1027.7" x2="1598.5" y2="1078.5" stroke="#0000FF" stroke-width="1.7"/><rect x="1593.1" y="1044.7" width="10.8" height="22.5" fill="#fff" stroke="#0000FF" stroke-width="1.7"/><line x1="1591.6" y1="1054.8" x2="1605.4" y2="1054.8" stroke="#0000FF" stroke-width="1.7"/><circle cx="1598.5" cy="1027.7" r="4.0"/><circle cx="1598.5" cy="1040.0" r="4.0"/><circle cx="1602.3" cy="1047.5" r="4.0"/><circle cx="1594.7" cy="1053.9" r="4.0"/><circle cx="1602.3" cy="1055.5" r="4.0"/><circle cx="1598.5" cy="1054.8" r="4.0"/><circle cx="1598.5" cy="1063.0" r="4.0"/><circle cx="1598.5" cy="1072.0" r="4.0"/><circle cx="1598.5" cy="1078.5" r="4.0"/></g>
<g fill="#000000" clip-path="url(#clipF)"><line x1="1618.9" y1="959.3" x2="1618.9" y2="1092.3" stroke="#000000" stroke-width="1.7"/><rect x="1613.5" y="1018.7" width="10.8" height="56.2" fill="#fff" stroke="#000000" stroke-width="1.7"/><line x1="1612.0" y1="1059.0" x2="1625.8" y2="1059.0" stroke="#000000" stroke-width="1.7"/><circle cx="1618.9" cy="959.3" r="4.0"/><circle cx="1618.9" cy="978.9" r="4.0"/><circle cx="1618.9" cy="1003.6" r="4.0"/><circle cx="1618.9" cy="1017.3" r="4.0"/><circle cx="1618.9" cy="1032.8" r="4.0"/><circle cx="1618.9" cy="1041.0" r="4.0"/><circle cx="1618.9" cy="1052.0" r="4.0"/><circle cx="1617.4" cy="1060.3" r="4.0"/><circle cx="1618.9" cy="1069.4" r="4.0"/><circle cx="1614.9" cy="1078.5" r="4.0"/><circle cx="1623.1" cy="1078.5" r="4.0"/><circle cx="1618.9" cy="1082.0" r="4.0"/><circle cx="1618.9" cy="1092.3" r="4.0"/></g>
<g fill="#00FF00" clip-path="url(#clipF)"><line x1="1639.4" y1="1061.7" x2="1639.4" y2="1094.0" stroke="#00FF00" stroke-width="1.7"/><rect x="1634.0" y="1080.5" width="10.8" height="14.1" fill="#fff" stroke="#00FF00" stroke-width="1.7"/><line x1="1632.5" y1="1088.0" x2="1646.3" y2="1088.0" stroke="#00FF00" stroke-width="1.7"/><circle cx="1639.4" cy="1061.7" r="4.0"/><circle cx="1639.4" cy="1075.8" r="4.0"/><circle cx="1636.9" cy="1081.3" r="4.0"/><circle cx="1641.9" cy="1082.0" r="4.0"/><circle cx="1635.4" cy="1086.0" r="4.0"/><circle cx="1643.4" cy="1086.5" r="4.0"/><circle cx="1639.4" cy="1089.0" r="4.0"/><circle cx="1635.4" cy="1092.0" r="4.0"/><circle cx="1643.4" cy="1092.0" r="4.0"/><circle cx="1639.4" cy="1094.0" r="4.0"/></g>
<g fill="#FF0000" clip-path="url(#clipF)"><line x1="1673.0" y1="700.5" x2="1673.0" y2="1058.0" stroke="#FF0000" stroke-width="1.7"/><rect x="1667.6" y="782.0" width="10.8" height="269.7" fill="#fff" stroke="#FF0000" stroke-width="1.7"/><line x1="1666.1" y1="894.2" x2="1679.9" y2="894.2" stroke="#FF0000" stroke-width="1.7"/><circle cx="1673.0" cy="700.5" r="4.0"/><circle cx="1669.3" cy="778.8" r="4.0"/><circle cx="1677.4" cy="777.0" r="4.0"/><circle cx="1673.0" cy="784.1" r="4.0"/><circle cx="1673.0" cy="826.5" r="4.0"/><circle cx="1673.0" cy="961.5" r="4.0"/><circle cx="1673.0" cy="1010.3" r="4.0"/><circle cx="1673.0" cy="1050.2" r="4.0"/><circle cx="1670.2" cy="1058.0" r="4.0"/><circle cx="1675.8" cy="1056.5" r="4.0"/></g>
<g fill="#0000FF" clip-path="url(#clipF)"><line x1="1693.8" y1="861.5" x2="1693.8" y2="1072.5" stroke="#0000FF" stroke-width="1.7"/><rect x="1688.4" y="905.2" width="10.8" height="149.6" fill="#fff" stroke="#0000FF" stroke-width="1.7"/><line x1="1686.9" y1="1015.0" x2="1700.7" y2="1015.0" stroke="#0000FF" stroke-width="1.7"/><circle cx="1693.8" cy="861.5" r="4.0"/><circle cx="1693.8" cy="890.2" r="4.0"/><circle cx="1693.8" cy="919.0" r="4.0"/><circle cx="1693.8" cy="1001.7" r="4.0"/><circle cx="1693.8" cy="1015.0" r="4.0"/><circle cx="1693.8" cy="1024.6" r="4.0"/><circle cx="1689.8" cy="1055.7" r="4.0"/><circle cx="1698.0" cy="1058.4" r="4.0"/><circle cx="1693.8" cy="1072.5" r="4.0"/></g>
<g fill="#000000" clip-path="url(#clipF)"><line x1="1714.2" y1="895.3" x2="1714.2" y2="1087.0" stroke="#000000" stroke-width="1.7"/><rect x="1708.8" y="1046.5" width="10.8" height="23.8" fill="#fff" stroke="#000000" stroke-width="1.7"/><line x1="1707.3" y1="1060.3" x2="1721.1" y2="1060.3" stroke="#000000" stroke-width="1.7"/><circle cx="1714.2" cy="895.3" r="4.0"/><circle cx="1714.2" cy="1017.8" r="4.0"/><circle cx="1710.9" cy="1044.7" r="4.0"/><circle cx="1718.2" cy="1044.7" r="4.0"/><circle cx="1714.2" cy="1048.0" r="4.0"/><circle cx="1714.2" cy="1054.0" r="4.0"/><circle cx="1714.2" cy="1060.3" r="4.0"/><circle cx="1710.7" cy="1068.5" r="4.0"/><circle cx="1718.2" cy="1068.5" r="4.0"/><circle cx="1714.2" cy="1064.0" r="4.0"/><circle cx="1714.2" cy="1076.7" r="4.0"/><circle cx="1715.2" cy="1085.0" r="4.0"/><circle cx="1712.7" cy="1087.0" r="4.0"/></g>
<g fill="#00FF00" clip-path="url(#clipF)"><line x1="1734.7" y1="1083.5" x2="1734.7" y2="1093.5" stroke="#00FF00" stroke-width="1.7"/><circle cx="1734.7" cy="1083.5" r="4.0"/><circle cx="1732.5" cy="1090.4" r="4.0"/><circle cx="1737.2" cy="1091.0" r="4.0"/><circle cx="1730.2" cy="1093.5" r="4.0"/><circle cx="1739.2" cy="1093.5" r="4.0"/></g>
<text x="1695.9" y="617.8" font-size="22.40" fill="#000" text-anchor="middle" font-weight="normal" letter-spacing="0.35">****</text>
<line x1="1669.7" y1="625.7" x2="1721.7" y2="625.7" stroke="#000" stroke-width="1.9" />
<line x1="1669.7" y1="619.1" x2="1669.7" y2="632.3" stroke="#000" stroke-width="1.9" />
<line x1="1721.7" y1="619.1" x2="1721.7" y2="632.3" stroke="#000" stroke-width="1.9" />
<text x="1676.0" y="658.8" font-size="19.0" fill="#000" text-anchor="start" font-weight="normal" >ns</text>
<line x1="1670.1" y1="671.6" x2="1703.6" y2="671.6" stroke="#000" stroke-width="1.9" />
<line x1="1670.1" y1="665.0" x2="1670.1" y2="678.2" stroke="#000" stroke-width="1.9" />
<line x1="1703.6" y1="665.0" x2="1703.6" y2="678.2" stroke="#000" stroke-width="1.9" />
<text x="1721.3" y="816.6" font-size="22.40" fill="#000" text-anchor="middle" font-weight="normal" letter-spacing="0.35">****</text>
<line x1="1694.7" y1="826.2" x2="1747.1" y2="826.2" stroke="#000" stroke-width="1.9" />
<line x1="1694.7" y1="819.6" x2="1694.7" y2="832.8" stroke="#000" stroke-width="1.9" />
<line x1="1747.1" y1="819.6" x2="1747.1" y2="832.8" stroke="#000" stroke-width="1.9" />
<text x="1730.4" y="866.0" font-size="22.40" fill="#000" text-anchor="middle" font-weight="normal" letter-spacing="0.00">*</text>
<line x1="1712.6" y1="871.6" x2="1746.1" y2="871.6" stroke="#000" stroke-width="1.9" />
<line x1="1712.6" y1="865.1" x2="1712.6" y2="878.1" stroke="#000" stroke-width="1.9" />
<line x1="1746.1" y1="865.1" x2="1746.1" y2="878.1" stroke="#000" stroke-width="1.9" />
<rect x="1374.8" y="1209.7" width="30.1" height="15.3" fill="none" stroke="#FF0000" stroke-width="1.5" />
<text x="1423.10" y="1225.1" font-size="24.6" fill="#000" font-weight="normal" textLength="157.79" lengthAdjust="spacingAndGlyphs" >sgGAL4 tumor</text>
<rect x="1374.8" y="1255.6" width="30.1" height="15.3" fill="none" stroke="#0000FF" stroke-width="1.5" />
<text x="1423.11" y="1271.0" font-size="24.6" fill="#000" font-weight="normal" textLength="172.28" lengthAdjust="spacingAndGlyphs" >sgATG9A tumor</text>
<rect x="1374.8" y="1301.3" width="30.1" height="15.3" fill="none" stroke="#000000" stroke-width="1.5" />
<text x="1423.11" y="1316.7" font-size="24.6" fill="#000" font-weight="normal" textLength="248.94" lengthAdjust="spacingAndGlyphs" >sgGAL4 tumor+CAR-M</text>
<rect x="1374.8" y="1347.0" width="30.1" height="15.3" fill="none" stroke="#00FF00" stroke-width="1.5" />
<text x="1423.11" y="1362.4" font-size="24.6" fill="#000" font-weight="normal" textLength="263.43" lengthAdjust="spacingAndGlyphs" >sgATG9A tumor+CAR-M</text>
<text x="1779.35" y="630.7" font-size="31.4" fill="#FF0000" font-weight="normal" textLength="201.26" lengthAdjust="spacingAndGlyphs" >sgGAL4 tumors</text>
<text x="1825.06" y="669.8" font-size="31.4" fill="#000" font-weight="normal" textLength="110.37" lengthAdjust="spacingAndGlyphs" >+CAR-M</text>
<text x="1762.34" y="884.9" font-size="31.4" fill="#0000FF" font-weight="normal" textLength="221.47" lengthAdjust="spacingAndGlyphs" >sgATG9A tumors</text>
<text x="1818.18" y="923.6" font-size="31.4" fill="#000" font-weight="normal" textLength="109.03" lengthAdjust="spacingAndGlyphs" >+CAR-M</text>
<defs>
<filter id="bl1" x="-30%" y="-30%" width="160%" height="160%"><feGaussianBlur stdDeviation="1.1"/></filter>
<filter id="bl2" x="-30%" y="-30%" width="160%" height="160%"><feGaussianBlur stdDeviation="0.6"/></filter>
<filter id="bl3" x="-50%" y="-50%" width="200%" height="200%"><feGaussianBlur stdDeviation="2.0"/></filter>
<filter id="bl4" x="-50%" y="-50%" width="200%" height="200%"><feGaussianBlur stdDeviation="0.45"/></filter>
<filter id="grain" x="0" y="0" width="100%" height="100%"><feTurbulence type="fractalNoise" baseFrequency="0.85" numOctaves="2" seed="11" result="n"/><feColorMatrix in="n" type="matrix" values="0 0 0 0 0.62  0 0 0 0 0.62  0 0 0 0 0.62  0 0 0 1.1 -0.32"/></filter>
<filter id="fur" x="0" y="0" width="100%" height="100%"><feTurbulence type="fractalNoise" baseFrequency="0.22" numOctaves="3" seed="5" result="n"/><feColorMatrix in="n" type="matrix" values="0 0 0 0 0.35  0 0 0 0 0.35  0 0 0 0 0.35  0 0 0 2.2 -0.95" result="m"/><feComposite in="m" in2="SourceGraphic" operator="in"/><feGaussianBlur stdDeviation="0.5"/></filter>
<radialGradient id="mg" cx="50%" cy="52%" r="60%"><stop offset="0" stop-color="#fbfbfb"/><stop offset="0.55" stop-color="#ececec"/><stop offset="0.85" stop-color="#cccccc"/><stop offset="1" stop-color="#949494"/></radialGradient>
<linearGradient id="bgp" x1="0" y1="0" x2="0" y2="1"><stop offset="0" stop-color="#050505"/><stop offset="0.48" stop-color="#070707"/><stop offset="0.56" stop-color="#1c1c1c"/><stop offset="0.85" stop-color="#1e1e1e"/><stop offset="1" stop-color="#0a0a0a"/></linearGradient>
<linearGradient id="vig" x1="0" y1="0" x2="1" y2="0"><stop offset="0" stop-color="#000" stop-opacity="0.75"/><stop offset="0.1" stop-color="#000" stop-opacity="0"/><stop offset="0.9" stop-color="#000" stop-opacity="0"/><stop offset="1" stop-color="#000" stop-opacity="0.75"/></linearGradient>
<linearGradient id="cbar" x1="0" y1="0" x2="0" y2="1"><stop offset="0" stop-color="#ff0000"/><stop offset="0.12" stop-color="#ff5a00"/><stop offset="0.25" stop-color="#ffe600"/><stop offset="0.42" stop-color="#5be000"/><stop offset="0.55" stop-color="#00d060"/><stop offset="0.7" stop-color="#00c8e8"/><stop offset="0.85" stop-color="#0050ff"/><stop offset="1" stop-color="#5a00c8"/></linearGradient>
<radialGradient id="hot" cx="50%" cy="50%" r="50%"><stop offset="0" stop-color="#e8f000"/><stop offset="0.28" stop-color="#20d040"/><stop offset="0.5" stop-color="#00b8e0"/><stop offset="0.75" stop-color="#1030ff"/><stop offset="1" stop-color="#4a10d0"/></radialGradient>
<radialGradient id="warm" cx="50%" cy="50%" r="50%"><stop offset="0" stop-color="#30d8a0"/><stop offset="0.4" stop-color="#00a0f0"/><stop offset="0.75" stop-color="#1030ff"/><stop offset="1" stop-color="#4a10d0"/></radialGradient>
<radialGradient id="cold" cx="50%" cy="50%" r="50%"><stop offset="0" stop-color="#2060ff"/><stop offset="0.7" stop-color="#1a20f0"/><stop offset="1" stop-color="#4a10d0"/></radialGradient>
</defs>
<clipPath id="pc1"><rect x="1767.7" y="675.2" width="199.1" height="157.1"/></clipPath><g clip-path="url(#pc1)"><rect x="1767.7" y="675.2" width="199.1" height="157.1" fill="url(#bgp)"/><rect x="1767.7" y="753.8" width="199.1" height="78.5" filter="url(#grain)" opacity="0.22"/><rect x="1767.7" y="675.2" width="199.1" height="157.1" fill="url(#vig)"/><path d="M1779.7,676.0 L1949.8,676.0 L1942.8,684.4000000000001 L1782.7,684.8000000000001 Z" fill="#262626" filter="url(#bl2)"/><path d="M1783.7,679.7 L1942.8,679.4000000000001" stroke="#3c3c3c" stroke-width="2.2" filter="url(#bl1)"/><rect x="1774.2" y="684.2" width="3" height="66.0" fill="#1c1c1c" filter="url(#bl2)"/><rect x="1805.2" y="684.2" width="2.4" height="47.1" fill="#181818" filter="url(#bl2)"/><rect x="1810.6" y="684.2" width="3" height="66.0" fill="#1c1c1c" filter="url(#bl2)"/><rect x="1841.6" y="684.2" width="2.4" height="47.1" fill="#181818" filter="url(#bl2)"/><rect x="1844.4" y="684.2" width="3" height="66.0" fill="#1c1c1c" filter="url(#bl2)"/><rect x="1875.4" y="684.2" width="2.4" height="47.1" fill="#181818" filter="url(#bl2)"/><rect x="1879.9" y="684.2" width="3" height="66.0" fill="#1c1c1c" filter="url(#bl2)"/><rect x="1910.9" y="684.2" width="2.4" height="47.1" fill="#181818" filter="url(#bl2)"/><rect x="1919.3" y="684.2" width="3" height="66.0" fill="#1c1c1c" filter="url(#bl2)"/><rect x="1950.3" y="684.2" width="2.4" height="47.1" fill="#181818" filter="url(#bl2)"/><rect x="1794.7" y="683.7" width="4.0" height="15.0" fill="#9d9d9d" filter="url(#bl4)"/><rect x="1796.0" y="683.7" width="1.2" height="14.0" fill="#d8d8d8" filter="url(#bl4)"/><ellipse cx="1796.7" cy="695.2" rx="5.6" ry="3.6" fill="#9c9c9c" filter="url(#bl2)"/><path d="M25.2,82 C24.5,100 26,118 26.5,136" transform="translate(1767.7 675.2)" fill="none" stroke="#b0b0b0" stroke-width="1.7" stroke-linecap="round" filter="url(#bl4)"/><path d="M1783.4,754.5 L1778.4,755.5 L1773.9,756.3" stroke="#a8a8a8" stroke-width="2.3" fill="none" stroke-linecap="round" filter="url(#bl2)"/><path d="M1805.0,754.5 L1810.0,755.5 L1814.5,756.3" stroke="#a8a8a8" stroke-width="2.3" fill="none" stroke-linecap="round" filter="url(#bl2)"/><path d="M1794.2,693.7 C1799.9,693.7 1802.6,697.0 1804.3,702.8 C1806.3,710.6 1810.5,717.1 1811.0,734.0 C1811.5,749.6 1807.0,758.1 1794.2,758.7 C1781.4,758.1 1776.9,749.6 1777.4,734.0 C1777.9,717.1 1782.1,710.6 1784.1,702.8 C1785.8,697.0 1788.5,693.7 1794.2,693.7 Z" fill="url(#mg)" filter="url(#bl1)"/><path d="M1794.2,693.7 C1799.9,693.7 1802.6,697.0 1804.3,702.8 C1806.3,710.6 1810.5,717.1 1811.0,734.0 C1811.5,749.6 1807.0,758.1 1794.2,758.7 C1781.4,758.1 1776.9,749.6 1777.4,734.0 C1777.9,717.1 1782.1,710.6 1784.1,702.8 C1785.8,697.0 1788.5,693.7 1794.2,693.7 Z" fill="#000" filter="url(#fur)" opacity="0.7"/><ellipse cx="1788.7" cy="704.8" rx="2.6" ry="1.6" fill="#8d8d8d" opacity="0.75" filter="url(#bl1)"/><ellipse cx="1801.3" cy="706.1" rx="2.4" ry="1.6" fill="#8d8d8d" opacity="0.7" filter="url(#bl1)"/><ellipse cx="1790.0" cy="753.7" rx="3" ry="2" fill="#9a9a9a" opacity="0.6" filter="url(#bl1)"/><rect x="1828.2" y="683.7" width="4.0" height="20.0" fill="#9d9d9d" filter="url(#bl4)"/><rect x="1829.5" y="683.7" width="1.2" height="19.0" fill="#d8d8d8" filter="url(#bl4)"/><ellipse cx="1830.2" cy="700.2" rx="5.6" ry="3.6" fill="#9c9c9c" filter="url(#bl2)"/><path d="M64.4,86 C70,98 74,118 65,144" transform="translate(1767.7 675.2)" fill="none" stroke="#b0b0b0" stroke-width="1.7" stroke-linecap="round" filter="url(#bl4)"/><path d="M1820.7,757.5 L1815.7,758.5 L1811.2,759.3" stroke="#a8a8a8" stroke-width="2.3" fill="none" stroke-linecap="round" filter="url(#bl2)"/><path d="M1840.5,757.5 L1845.5,758.5 L1850.0,759.3" stroke="#a8a8a8" stroke-width="2.3" fill="none" stroke-linecap="round" filter="url(#bl2)"/><path d="M1830.6,698.7 C1836.0,698.7 1838.6,701.9 1840.1,707.5 C1842.0,715.1 1846.0,721.4 1846.5,737.8 C1847.0,752.9 1842.7,761.1 1830.6,761.7 C1818.5,761.1 1814.2,752.9 1814.7,737.8 C1815.2,721.4 1819.2,715.1 1821.1,707.5 C1822.7,701.9 1825.2,698.7 1830.6,698.7 Z" fill="url(#mg)" filter="url(#bl1)"/><path d="M1830.6,698.7 C1836.0,698.7 1838.6,701.9 1840.1,707.5 C1842.0,715.1 1846.0,721.4 1846.5,737.8 C1847.0,752.9 1842.7,761.1 1830.6,761.7 C1818.5,761.1 1814.2,752.9 1814.7,737.8 C1815.2,721.4 1819.2,715.1 1821.1,707.5 C1822.7,701.9 1825.2,698.7 1830.6,698.7 Z" fill="#000" filter="url(#fur)" opacity="0.7"/><ellipse cx="1825.4" cy="709.4" rx="2.6" ry="1.6" fill="#8d8d8d" opacity="0.75" filter="url(#bl1)"/><ellipse cx="1837.3" cy="710.7" rx="2.4" ry="1.6" fill="#8d8d8d" opacity="0.7" filter="url(#bl1)"/><ellipse cx="1826.6" cy="756.7" rx="3" ry="2" fill="#9a9a9a" opacity="0.6" filter="url(#bl1)"/><rect x="1863.4" y="683.7" width="4.0" height="14.0" fill="#9d9d9d" filter="url(#bl4)"/><rect x="1864.7" y="683.7" width="1.2" height="13.0" fill="#d8d8d8" filter="url(#bl4)"/><ellipse cx="1865.4" cy="694.2" rx="5.6" ry="3.6" fill="#9c9c9c" filter="url(#bl2)"/><path d="M97.4,82 C97,100 99,122 104.8,142.4" transform="translate(1767.7 675.2)" fill="none" stroke="#b0b0b0" stroke-width="1.7" stroke-linecap="round" filter="url(#bl4)"/><path d="M1854.8,755.0 L1849.8,756.0 L1845.3,756.8" stroke="#a8a8a8" stroke-width="2.3" fill="none" stroke-linecap="round" filter="url(#bl2)"/><path d="M1874.0,755.0 L1879.0,756.0 L1883.5,756.8" stroke="#a8a8a8" stroke-width="2.3" fill="none" stroke-linecap="round" filter="url(#bl2)"/><path d="M1864.4,692.7 C1869.7,692.7 1872.2,696.0 1873.8,702.0 C1875.6,710.0 1879.5,716.6 1880.0,733.9 C1880.5,749.9 1876.3,758.5 1864.4,759.2 C1852.5,758.5 1848.3,749.9 1848.8,733.9 C1849.3,716.6 1853.2,710.0 1855.0,702.0 C1856.6,696.0 1859.1,692.7 1864.4,692.7 Z" fill="url(#mg)" filter="url(#bl1)"/><path d="M1864.4,692.7 C1869.7,692.7 1872.2,696.0 1873.8,702.0 C1875.6,710.0 1879.5,716.6 1880.0,733.9 C1880.5,749.9 1876.3,758.5 1864.4,759.2 C1852.5,758.5 1848.3,749.9 1848.8,733.9 C1849.3,716.6 1853.2,710.0 1855.0,702.0 C1856.6,696.0 1859.1,692.7 1864.4,692.7 Z" fill="#000" filter="url(#fur)" opacity="0.7"/><ellipse cx="1859.3" cy="704.0" rx="2.6" ry="1.6" fill="#8d8d8d" opacity="0.75" filter="url(#bl1)"/><ellipse cx="1871.0" cy="705.3" rx="2.4" ry="1.6" fill="#8d8d8d" opacity="0.7" filter="url(#bl1)"/><ellipse cx="1860.5" cy="754.2" rx="3" ry="2" fill="#9a9a9a" opacity="0.6" filter="url(#bl1)"/><rect x="1898.5" y="683.7" width="4.0" height="15.0" fill="#9d9d9d" filter="url(#bl4)"/><rect x="1899.8" y="683.7" width="1.2" height="14.0" fill="#d8d8d8" filter="url(#bl4)"/><ellipse cx="1900.5" cy="695.2" rx="5.6" ry="3.6" fill="#9c9c9c" filter="url(#bl2)"/><path d="M129.7,82 C126,100 136,118 148.3,136" transform="translate(1767.7 675.2)" fill="none" stroke="#b0b0b0" stroke-width="1.7" stroke-linecap="round" filter="url(#bl4)"/><path d="M1889.7,755.0 L1884.7,756.0 L1880.2,756.8" stroke="#a8a8a8" stroke-width="2.3" fill="none" stroke-linecap="round" filter="url(#bl2)"/><path d="M1910.1,755.0 L1915.1,756.0 L1919.6,756.8" stroke="#a8a8a8" stroke-width="2.3" fill="none" stroke-linecap="round" filter="url(#bl2)"/><path d="M1899.9,693.7 C1905.4,693.7 1908.0,697.0 1909.6,702.9 C1911.6,710.7 1915.6,717.3 1916.1,734.3 C1916.6,750.0 1912.2,758.5 1899.9,759.2 C1887.6,758.5 1883.2,750.0 1883.7,734.3 C1884.2,717.3 1888.2,710.7 1890.2,702.9 C1891.8,697.0 1894.4,693.7 1899.9,693.7 Z" fill="url(#mg)" filter="url(#bl1)"/><path d="M1899.9,693.7 C1905.4,693.7 1908.0,697.0 1909.6,702.9 C1911.6,710.7 1915.6,717.3 1916.1,734.3 C1916.6,750.0 1912.2,758.5 1899.9,759.2 C1887.6,758.5 1883.2,750.0 1883.7,734.3 C1884.2,717.3 1888.2,710.7 1890.2,702.9 C1891.8,697.0 1894.4,693.7 1899.9,693.7 Z" fill="#000" filter="url(#fur)" opacity="0.7"/><ellipse cx="1894.6" cy="704.8" rx="2.6" ry="1.6" fill="#8d8d8d" opacity="0.75" filter="url(#bl1)"/><ellipse cx="1906.7" cy="706.1" rx="2.4" ry="1.6" fill="#8d8d8d" opacity="0.7" filter="url(#bl1)"/><ellipse cx="1895.9" cy="754.2" rx="3" ry="2" fill="#9a9a9a" opacity="0.6" filter="url(#bl1)"/><rect x="1932.1" y="683.7" width="4.0" height="14.0" fill="#9d9d9d" filter="url(#bl4)"/><rect x="1933.4" y="683.7" width="1.2" height="13.0" fill="#d8d8d8" filter="url(#bl4)"/><ellipse cx="1934.1" cy="694.2" rx="5.6" ry="3.6" fill="#9c9c9c" filter="url(#bl2)"/><path d="M168.8,79 C166,98 162,116 150.8,134.3" transform="translate(1767.7 675.2)" fill="none" stroke="#b0b0b0" stroke-width="1.7" stroke-linecap="round" filter="url(#bl4)"/><path d="M1926.5,751.5 L1921.5,752.5 L1917.0,753.3" stroke="#a8a8a8" stroke-width="2.3" fill="none" stroke-linecap="round" filter="url(#bl2)"/><path d="M1952.1,751.5 L1957.1,752.5 L1961.6,753.3" stroke="#a8a8a8" stroke-width="2.3" fill="none" stroke-linecap="round" filter="url(#bl2)"/><path d="M1939.3,692.7 C1945.7,692.7 1948.7,695.9 1950.6,701.5 C1952.8,709.1 1957.5,715.4 1958.1,731.8 C1958.7,746.9 1953.6,755.1 1939.3,755.7 C1925.0,755.1 1919.9,746.9 1920.5,731.8 C1921.1,715.4 1925.8,709.1 1928.0,701.5 C1929.9,695.9 1932.9,692.7 1939.3,692.7 Z" fill="url(#mg)" filter="url(#bl1)"/><path d="M1939.3,692.7 C1945.7,692.7 1948.7,695.9 1950.6,701.5 C1952.8,709.1 1957.5,715.4 1958.1,731.8 C1958.7,746.9 1953.6,755.1 1939.3,755.7 C1925.0,755.1 1919.9,746.9 1920.5,731.8 C1921.1,715.4 1925.8,709.1 1928.0,701.5 C1929.9,695.9 1932.9,692.7 1939.3,692.7 Z" fill="#000" filter="url(#fur)" opacity="0.7"/><ellipse cx="1933.1" cy="703.4" rx="2.6" ry="1.6" fill="#8d8d8d" opacity="0.75" filter="url(#bl1)"/><ellipse cx="1947.2" cy="704.7" rx="2.4" ry="1.6" fill="#8d8d8d" opacity="0.7" filter="url(#bl1)"/><ellipse cx="1934.6" cy="750.7" rx="3" ry="2" fill="#9a9a9a" opacity="0.6" filter="url(#bl1)"/><ellipse cx="1783.9" cy="738.9" rx="1.9" ry="1.5" fill="url(#cold)" filter="url(#bl4)"/><ellipse cx="1835.2" cy="745.7" rx="3.2" ry="2.4" fill="url(#cold)" filter="url(#bl4)"/><ellipse cx="1839.2" cy="751.7" rx="2.6" ry="3.4" fill="url(#cold)" filter="url(#bl4)"/><ellipse cx="1841.4" cy="746.7" rx="5.6" ry="5.2" fill="url(#hot)" filter="url(#bl4)"/><ellipse cx="1834.6" cy="760.1" rx="4.8" ry="3.8" fill="url(#warm)" filter="url(#bl4)"/><ellipse cx="1871.0" cy="739.5" rx="4.4" ry="4.2" fill="url(#hot)" filter="url(#bl4)"/><ellipse cx="1907.7" cy="737.4" rx="2.6" ry="2.9" fill="url(#cold)" filter="url(#bl4)"/><ellipse cx="1904.8" cy="743.0" rx="1.3" ry="0.8" fill="url(#cold)" filter="url(#bl4)"/><ellipse cx="1925.7" cy="723.4" rx="3.8" ry="2.4" fill="url(#warm)" filter="url(#bl4)"/><ellipse cx="1946.9" cy="735.2" rx="2.5" ry="3.1" fill="url(#cold)" filter="url(#bl4)"/><ellipse cx="1938.2" cy="749.4" rx="4.6" ry="3.6" fill="url(#warm)" filter="url(#bl4)"/></g><rect x="1968.5" y="684.8" width="5.3" height="116.9" fill="url(#cbar)"/><line x1="1973.8" y1="684.8" x2="1975.9" y2="684.8" stroke="#888" stroke-width="0.5"/><line x1="1973.8" y1="699.4" x2="1975.9" y2="699.4" stroke="#888" stroke-width="0.5"/><line x1="1973.8" y1="714.0" x2="1975.9" y2="714.0" stroke="#888" stroke-width="0.5"/><line x1="1973.8" y1="728.6" x2="1975.9" y2="728.6" stroke="#888" stroke-width="0.5"/><line x1="1973.8" y1="743.2" x2="1975.9" y2="743.2" stroke="#888" stroke-width="0.5"/><line x1="1973.8" y1="757.9" x2="1975.9" y2="757.9" stroke="#888" stroke-width="0.5"/><line x1="1973.8" y1="772.5" x2="1975.9" y2="772.5" stroke="#888" stroke-width="0.5"/><line x1="1973.8" y1="787.1" x2="1975.9" y2="787.1" stroke="#888" stroke-width="0.5"/><line x1="1973.8" y1="801.7" x2="1975.9" y2="801.7" stroke="#888" stroke-width="0.5"/><rect x="1968.5" y="817.1" width="24.2" height="12.2" fill="#fff" stroke="#555" stroke-width="0.7"/>
<text x="1968.5" y="681.0" font-size="3.3" fill="#444">Luminescence</text>
<text x="1977.5" y="686.0" font-size="3.3" fill="#444">4.0</text>
<text x="1977.5" y="718.3" font-size="3.3" fill="#444">3.0</text>
<text x="1977.5" y="750.5" font-size="3.3" fill="#444">2.0</text>
<text x="1977.5" y="782.8" font-size="3.3" fill="#444">1.0</text>
<text x="1987.5" y="739.6" font-size="3.3" fill="#444">x10⁸</text>
<text x="1968.5" y="809.5" font-size="3.3" fill="#444">Radiance</text>
<text x="1968.5" y="813.7" font-size="3.3" fill="#444">(p/sec/cm²/sr)</text>
<text x="1969.9" y="820.9" font-size="3.3" fill="#444">Color Scale</text>
<text x="1969.9" y="824.5" font-size="3.3" fill="#444">Min = 5.00e7</text>
<text x="1969.9" y="828.1" font-size="3.3" fill="#444">Max = 4.00e8</text>
<clipPath id="pc2"><rect x="1767.7" y="933.4" width="199.1" height="156.9"/></clipPath><g clip-path="url(#pc2)"><rect x="1767.7" y="933.4" width="199.1" height="156.9" fill="url(#bgp)"/><rect x="1767.7" y="1011.9" width="199.1" height="78.5" filter="url(#grain)" opacity="0.22"/><rect x="1767.7" y="933.4" width="199.1" height="156.9" fill="url(#vig)"/><path d="M1779.7,934.1999999999999 L1949.8,934.1999999999999 L1942.8,942.6 L1782.7,943.0 Z" fill="#262626" filter="url(#bl2)"/><path d="M1783.7,937.9 L1942.8,937.6" stroke="#3c3c3c" stroke-width="2.2" filter="url(#bl1)"/><rect x="1772.3" y="942.4" width="3" height="65.9" fill="#1c1c1c" filter="url(#bl2)"/><rect x="1803.3" y="942.4" width="2.4" height="47.1" fill="#181818" filter="url(#bl2)"/><rect x="1809.3" y="942.4" width="3" height="65.9" fill="#1c1c1c" filter="url(#bl2)"/><rect x="1840.3" y="942.4" width="2.4" height="47.1" fill="#181818" filter="url(#bl2)"/><rect x="1843.8" y="942.4" width="3" height="65.9" fill="#1c1c1c" filter="url(#bl2)"/><rect x="1874.8" y="942.4" width="2.4" height="47.1" fill="#181818" filter="url(#bl2)"/><rect x="1879.6" y="942.4" width="3" height="65.9" fill="#1c1c1c" filter="url(#bl2)"/><rect x="1910.6" y="942.4" width="2.4" height="47.1" fill="#181818" filter="url(#bl2)"/><rect x="1915.6" y="942.4" width="3" height="65.9" fill="#1c1c1c" filter="url(#bl2)"/><rect x="1946.6" y="942.4" width="2.4" height="47.1" fill="#181818" filter="url(#bl2)"/><rect x="1794.7" y="941.9" width="4.0" height="13.0" fill="#9d9d9d" filter="url(#bl4)"/><rect x="1796.0" y="941.9" width="1.2" height="12.0" fill="#d8d8d8" filter="url(#bl4)"/><ellipse cx="1796.7" cy="951.4" rx="5.6" ry="3.6" fill="#9c9c9c" filter="url(#bl2)"/><path d="M22.1,80 C17,98 16,118 16.5,136.8" transform="translate(1767.7 933.4)" fill="none" stroke="#b0b0b0" stroke-width="1.7" stroke-linecap="round" filter="url(#bl4)"/><path d="M1780.9,1010.7 L1775.9,1011.7 L1771.4,1012.5" stroke="#a8a8a8" stroke-width="2.3" fill="none" stroke-linecap="round" filter="url(#bl2)"/><path d="M1803.7,1010.7 L1808.7,1011.7 L1813.2,1012.5" stroke="#a8a8a8" stroke-width="2.3" fill="none" stroke-linecap="round" filter="url(#bl2)"/><path d="M1792.3,949.9 C1798.2,949.9 1801.0,953.1 1802.7,959.0 C1804.8,966.8 1809.2,973.3 1809.7,990.2 C1810.2,1005.8 1805.5,1014.2 1792.3,1014.9 C1779.1,1014.2 1774.4,1005.8 1774.9,990.2 C1775.4,973.3 1779.8,966.8 1781.9,959.0 C1783.6,953.1 1786.4,949.9 1792.3,949.9 Z" fill="url(#mg)" filter="url(#bl1)"/><path d="M1792.3,949.9 C1798.2,949.9 1801.0,953.1 1802.7,959.0 C1804.8,966.8 1809.2,973.3 1809.7,990.2 C1810.2,1005.8 1805.5,1014.2 1792.3,1014.9 C1779.1,1014.2 1774.4,1005.8 1774.9,990.2 C1775.4,973.3 1779.8,966.8 1781.9,959.0 C1783.6,953.1 1786.4,949.9 1792.3,949.9 Z" fill="#000" filter="url(#fur)" opacity="0.7"/><ellipse cx="1786.6" cy="960.9" rx="2.6" ry="1.6" fill="#8d8d8d" opacity="0.75" filter="url(#bl1)"/><ellipse cx="1799.6" cy="962.2" rx="2.4" ry="1.6" fill="#8d8d8d" opacity="0.7" filter="url(#bl1)"/><ellipse cx="1788.0" cy="1009.9" rx="3" ry="2" fill="#9a9a9a" opacity="0.6" filter="url(#bl1)"/><rect x="1828.2" y="941.9" width="4.0" height="13.5" fill="#9d9d9d" filter="url(#bl4)"/><rect x="1829.5" y="941.9" width="1.2" height="12.5" fill="#d8d8d8" filter="url(#bl4)"/><ellipse cx="1830.2" cy="951.9" rx="5.6" ry="3.6" fill="#9c9c9c" filter="url(#bl2)"/><path d="M60.7,77 C63,96 66,118 66.5,135.5" transform="translate(1767.7 933.4)" fill="none" stroke="#b0b0b0" stroke-width="1.7" stroke-linecap="round" filter="url(#bl4)"/><path d="M1820.0,1007.7 L1815.0,1008.7 L1810.5,1009.5" stroke="#a8a8a8" stroke-width="2.3" fill="none" stroke-linecap="round" filter="url(#bl2)"/><path d="M1838.6,1007.7 L1843.6,1008.7 L1848.1,1009.5" stroke="#a8a8a8" stroke-width="2.3" fill="none" stroke-linecap="round" filter="url(#bl2)"/><path d="M1829.3,950.4 C1834.5,950.4 1837.0,953.5 1838.5,959.0 C1840.3,966.4 1844.1,972.5 1844.6,988.5 C1845.1,1003.3 1840.9,1011.3 1829.3,1011.9 C1817.7,1011.3 1813.5,1003.3 1814.0,988.5 C1814.5,972.5 1818.3,966.4 1820.1,959.0 C1821.6,953.5 1824.1,950.4 1829.3,950.4 Z" fill="url(#mg)" filter="url(#bl1)"/><path d="M1829.3,950.4 C1834.5,950.4 1837.0,953.5 1838.5,959.0 C1840.3,966.4 1844.1,972.5 1844.6,988.5 C1845.1,1003.3 1840.9,1011.3 1829.3,1011.9 C1817.7,1011.3 1813.5,1003.3 1814.0,988.5 C1814.5,972.5 1818.3,966.4 1820.1,959.0 C1821.6,953.5 1824.1,950.4 1829.3,950.4 Z" fill="#000" filter="url(#fur)" opacity="0.7"/><ellipse cx="1824.3" cy="960.9" rx="2.6" ry="1.6" fill="#8d8d8d" opacity="0.75" filter="url(#bl1)"/><ellipse cx="1835.7" cy="962.1" rx="2.4" ry="1.6" fill="#8d8d8d" opacity="0.7" filter="url(#bl1)"/><ellipse cx="1825.5" cy="1006.9" rx="3" ry="2" fill="#9a9a9a" opacity="0.6" filter="url(#bl1)"/><rect x="1863.4" y="941.9" width="4.0" height="12.0" fill="#9d9d9d" filter="url(#bl4)"/><rect x="1864.7" y="941.9" width="1.2" height="11.0" fill="#d8d8d8" filter="url(#bl4)"/><ellipse cx="1865.4" cy="950.4" rx="5.6" ry="3.6" fill="#9c9c9c" filter="url(#bl2)"/><path d="M95.5,80 C93,96 80,112 94.9,138" transform="translate(1767.7 933.4)" fill="none" stroke="#b0b0b0" stroke-width="1.7" stroke-linecap="round" filter="url(#bl4)"/><path d="M1853.0,1011.2 L1848.0,1012.2 L1843.5,1013.0" stroke="#a8a8a8" stroke-width="2.3" fill="none" stroke-linecap="round" filter="url(#bl2)"/><path d="M1874.6,1011.2 L1879.6,1012.2 L1884.1,1013.0" stroke="#a8a8a8" stroke-width="2.3" fill="none" stroke-linecap="round" filter="url(#bl2)"/><path d="M1863.8,948.9 C1869.5,948.9 1872.2,952.2 1873.9,958.2 C1875.9,966.2 1880.1,972.8 1880.6,990.1 C1881.1,1006.1 1876.6,1014.7 1863.8,1015.4 C1851.0,1014.7 1846.5,1006.1 1847.0,990.1 C1847.5,972.8 1851.7,966.2 1853.7,958.2 C1855.4,952.2 1858.1,948.9 1863.8,948.9 Z" fill="url(#mg)" filter="url(#bl1)"/><path d="M1863.8,948.9 C1869.5,948.9 1872.2,952.2 1873.9,958.2 C1875.9,966.2 1880.1,972.8 1880.6,990.1 C1881.1,1006.1 1876.6,1014.7 1863.8,1015.4 C1851.0,1014.7 1846.5,1006.1 1847.0,990.1 C1847.5,972.8 1851.7,966.2 1853.7,958.2 C1855.4,952.2 1858.1,948.9 1863.8,948.9 Z" fill="#000" filter="url(#fur)" opacity="0.7"/><ellipse cx="1858.3" cy="960.2" rx="2.6" ry="1.6" fill="#8d8d8d" opacity="0.75" filter="url(#bl1)"/><ellipse cx="1870.9" cy="961.5" rx="2.4" ry="1.6" fill="#8d8d8d" opacity="0.7" filter="url(#bl1)"/><ellipse cx="1859.6" cy="1010.4" rx="3" ry="2" fill="#9a9a9a" opacity="0.6" filter="url(#bl1)"/><rect x="1898.5" y="941.9" width="4.0" height="12.5" fill="#9d9d9d" filter="url(#bl4)"/><rect x="1899.8" y="941.9" width="1.2" height="11.5" fill="#d8d8d8" filter="url(#bl4)"/><ellipse cx="1900.5" cy="950.9" rx="5.6" ry="3.6" fill="#9c9c9c" filter="url(#bl2)"/><path d="M130.3,78 C131,98 128,118 121.6,137.4" transform="translate(1767.7 933.4)" fill="none" stroke="#b0b0b0" stroke-width="1.7" stroke-linecap="round" filter="url(#bl4)"/><path d="M1889.7,1008.8 L1884.7,1009.8 L1880.2,1010.6" stroke="#a8a8a8" stroke-width="2.3" fill="none" stroke-linecap="round" filter="url(#bl2)"/><path d="M1909.5,1008.8 L1914.5,1009.8 L1919.0,1010.6" stroke="#a8a8a8" stroke-width="2.3" fill="none" stroke-linecap="round" filter="url(#bl2)"/><path d="M1899.6,949.4 C1905.0,949.4 1907.6,952.6 1909.1,958.3 C1911.0,965.9 1915.0,972.3 1915.5,988.8 C1916.0,1004.1 1911.7,1012.4 1899.6,1013.0 C1887.5,1012.4 1883.2,1004.1 1883.7,988.8 C1884.2,972.3 1888.2,965.9 1890.1,958.3 C1891.7,952.6 1894.2,949.4 1899.6,949.4 Z" fill="url(#mg)" filter="url(#bl1)"/><path d="M1899.6,949.4 C1905.0,949.4 1907.6,952.6 1909.1,958.3 C1911.0,965.9 1915.0,972.3 1915.5,988.8 C1916.0,1004.1 1911.7,1012.4 1899.6,1013.0 C1887.5,1012.4 1883.2,1004.1 1883.7,988.8 C1884.2,972.3 1888.2,965.9 1890.1,958.3 C1891.7,952.6 1894.2,949.4 1899.6,949.4 Z" fill="#000" filter="url(#fur)" opacity="0.7"/><ellipse cx="1894.4" cy="960.2" rx="2.6" ry="1.6" fill="#8d8d8d" opacity="0.75" filter="url(#bl1)"/><ellipse cx="1906.3" cy="961.5" rx="2.4" ry="1.6" fill="#8d8d8d" opacity="0.7" filter="url(#bl1)"/><ellipse cx="1895.6" cy="1008.0" rx="3" ry="2" fill="#9a9a9a" opacity="0.6" filter="url(#bl1)"/><rect x="1932.7" y="941.9" width="4.0" height="13.0" fill="#9d9d9d" filter="url(#bl4)"/><rect x="1934.0" y="941.9" width="1.2" height="12.0" fill="#d8d8d8" filter="url(#bl4)"/><ellipse cx="1934.7" cy="951.4" rx="5.6" ry="3.6" fill="#9c9c9c" filter="url(#bl2)"/><path d="M168.2,79 C174,96 176,116 164.5,135.5" transform="translate(1767.7 933.4)" fill="none" stroke="#b0b0b0" stroke-width="1.7" stroke-linecap="round" filter="url(#bl4)"/><path d="M1925.1,1009.4 L1920.1,1010.4 L1915.6,1011.2" stroke="#a8a8a8" stroke-width="2.3" fill="none" stroke-linecap="round" filter="url(#bl2)"/><path d="M1946.1,1009.4 L1951.1,1010.4 L1955.6,1011.2" stroke="#a8a8a8" stroke-width="2.3" fill="none" stroke-linecap="round" filter="url(#bl2)"/><path d="M1935.6,949.9 C1941.2,949.9 1943.9,953.1 1945.5,958.8 C1947.5,966.5 1951.6,972.8 1952.1,989.4 C1952.6,1004.7 1948.1,1013.0 1935.6,1013.6 C1923.1,1013.0 1918.6,1004.7 1919.1,989.4 C1919.6,972.8 1923.7,966.5 1925.7,958.8 C1927.4,953.1 1930.0,949.9 1935.6,949.9 Z" fill="url(#mg)" filter="url(#bl1)"/><path d="M1935.6,949.9 C1941.2,949.9 1943.9,953.1 1945.5,958.8 C1947.5,966.5 1951.6,972.8 1952.1,989.4 C1952.6,1004.7 1948.1,1013.0 1935.6,1013.6 C1923.1,1013.0 1918.6,1004.7 1919.1,989.4 C1919.6,972.8 1923.7,966.5 1925.7,958.8 C1927.4,953.1 1930.0,949.9 1935.6,949.9 Z" fill="#000" filter="url(#fur)" opacity="0.7"/><ellipse cx="1930.2" cy="960.7" rx="2.6" ry="1.6" fill="#8d8d8d" opacity="0.75" filter="url(#bl1)"/><ellipse cx="1942.5" cy="962.0" rx="2.4" ry="1.6" fill="#8d8d8d" opacity="0.7" filter="url(#bl1)"/><ellipse cx="1931.5" cy="1008.6" rx="3" ry="2" fill="#9a9a9a" opacity="0.6" filter="url(#bl1)"/><ellipse cx="1871.0" cy="999.3" rx="1.1" ry="0.9" fill="url(#cold)" filter="url(#bl4)"/><ellipse cx="1867.2" cy="1012.4" rx="1.9" ry="1.4" fill="url(#cold)" filter="url(#bl4)"/><ellipse cx="1903.3" cy="997.8" rx="2.9" ry="2.0" fill="url(#cold)" filter="url(#bl4)"/><ellipse cx="1893.6" cy="1006.8" rx="2.3" ry="1.3" fill="url(#cold)" filter="url(#bl4)"/><ellipse cx="1896.7" cy="1012.4" rx="1.1" ry="0.9" fill="url(#cold)" filter="url(#bl4)"/></g><rect x="1968.5" y="943.0" width="5.3" height="116.7" fill="url(#cbar)"/><line x1="1973.8" y1="943.0" x2="1975.9" y2="943.0" stroke="#888" stroke-width="0.5"/><line x1="1973.8" y1="957.6" x2="1975.9" y2="957.6" stroke="#888" stroke-width="0.5"/><line x1="1973.8" y1="972.2" x2="1975.9" y2="972.2" stroke="#888" stroke-width="0.5"/><line x1="1973.8" y1="986.8" x2="1975.9" y2="986.8" stroke="#888" stroke-width="0.5"/><line x1="1973.8" y1="1001.4" x2="1975.9" y2="1001.4" stroke="#888" stroke-width="0.5"/><line x1="1973.8" y1="1016.0" x2="1975.9" y2="1016.0" stroke="#888" stroke-width="0.5"/><line x1="1973.8" y1="1030.6" x2="1975.9" y2="1030.6" stroke="#888" stroke-width="0.5"/><line x1="1973.8" y1="1045.1" x2="1975.9" y2="1045.1" stroke="#888" stroke-width="0.5"/><line x1="1973.8" y1="1059.7" x2="1975.9" y2="1059.7" stroke="#888" stroke-width="0.5"/><rect x="1968.5" y="1075.1" width="24.2" height="12.2" fill="#fff" stroke="#555" stroke-width="0.7"/>
<text x="1968.5" y="939.2" font-size="3.3" fill="#444">Luminescence</text>
<text x="1977.5" y="944.2" font-size="3.3" fill="#444">4.0</text>
<text x="1977.5" y="976.4" font-size="3.3" fill="#444">3.0</text>
<text x="1977.5" y="1008.6" font-size="3.3" fill="#444">2.0</text>
<text x="1977.5" y="1040.9" font-size="3.3" fill="#444">1.0</text>
<text x="1987.5" y="997.7" font-size="3.3" fill="#444">x10⁸</text>
<text x="1968.5" y="1067.5" font-size="3.3" fill="#444">Radiance</text>
<text x="1968.5" y="1071.7" font-size="3.3" fill="#444">(p/sec/cm²/sr)</text>
<text x="1969.9" y="1078.9" font-size="3.3" fill="#444">Color Scale</text>
<text x="1969.9" y="1082.5" font-size="3.3" fill="#444">Min = 5.00e7</text>
<text x="1969.9" y="1086.1" font-size="3.3" fill="#444">Max = 4.00e8</text>
</svg>
</body></html>
